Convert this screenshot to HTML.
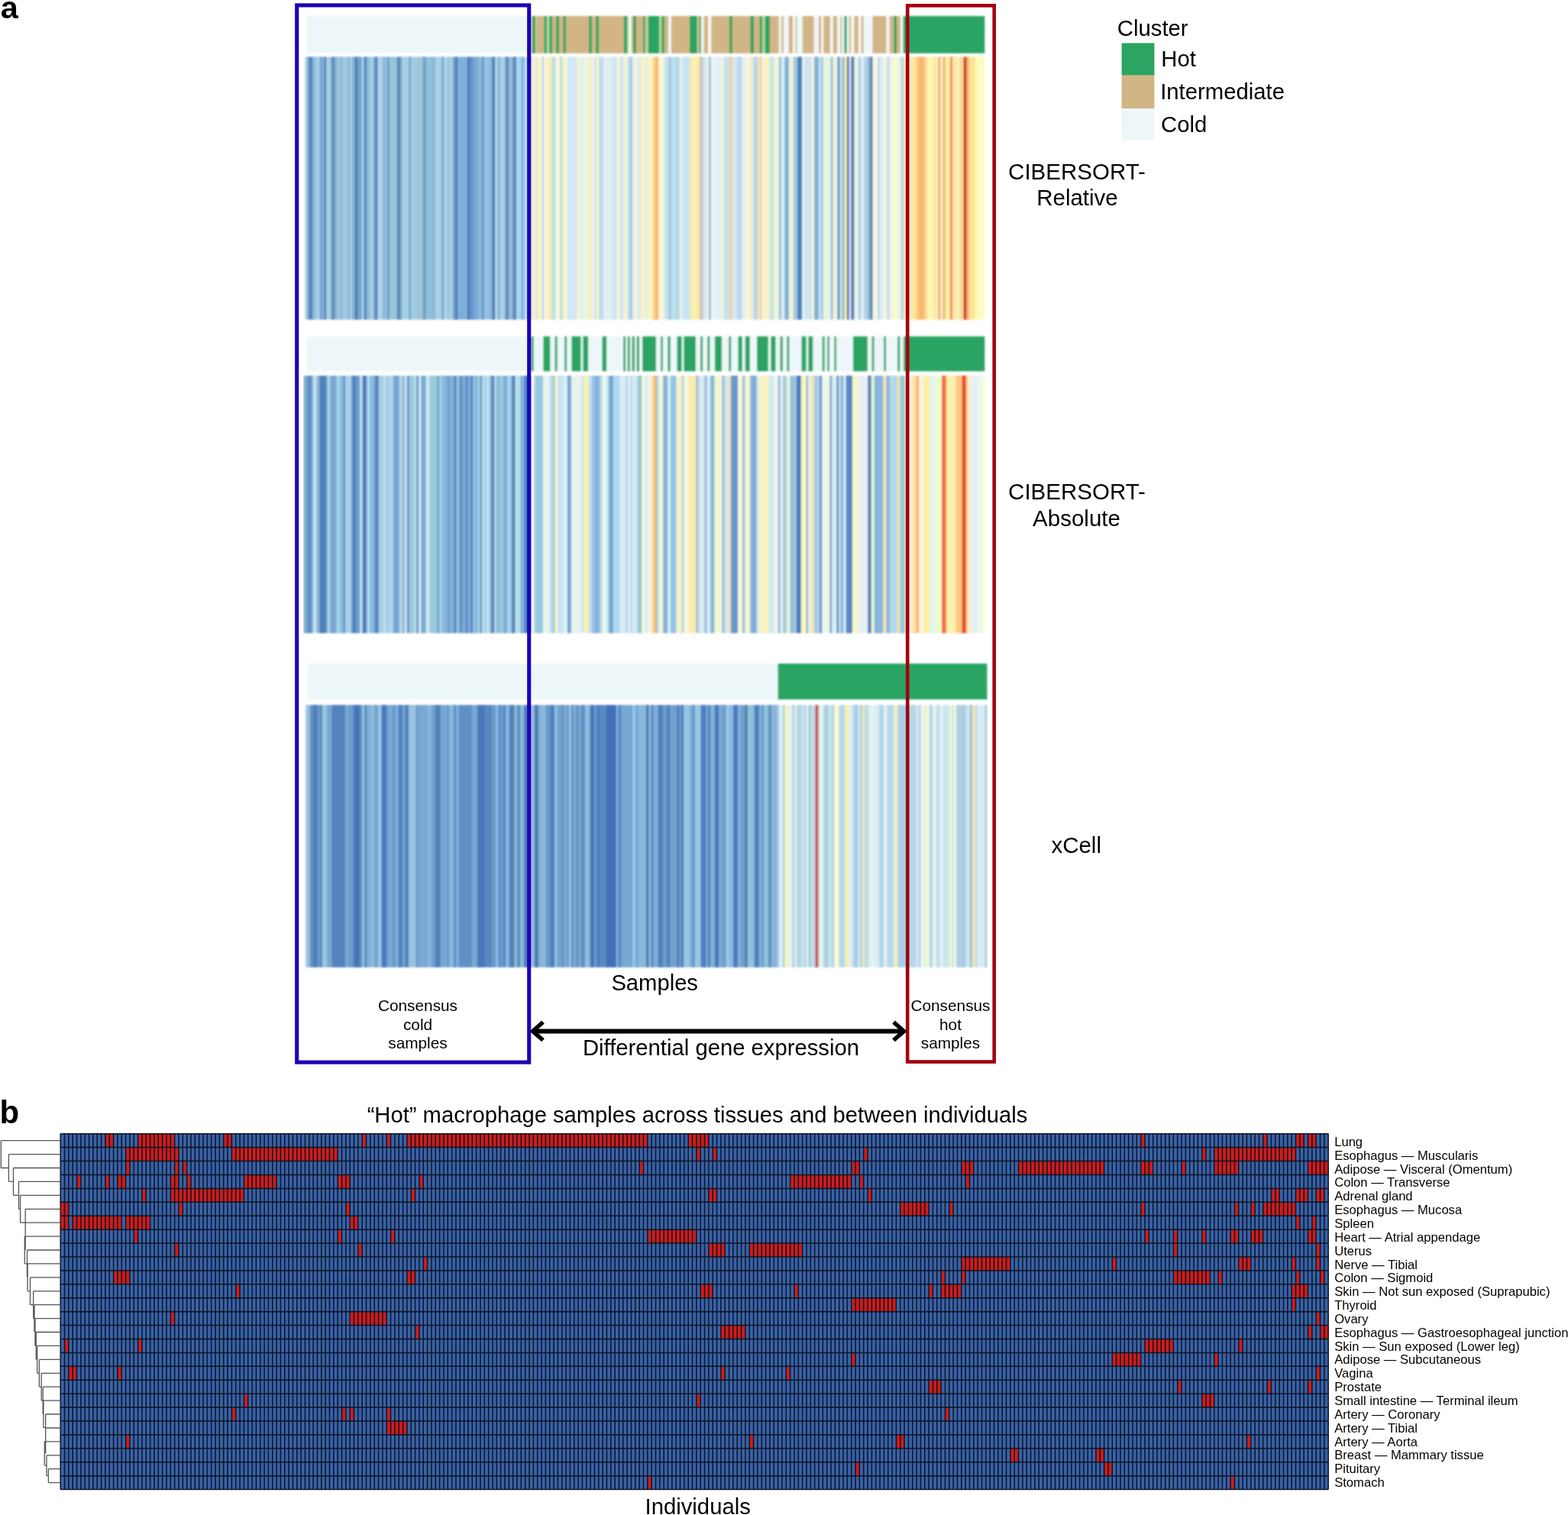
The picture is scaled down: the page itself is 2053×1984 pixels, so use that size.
<!DOCTYPE html>
<html><head><meta charset="utf-8"><title>Figure</title>
<style>
html,body{margin:0;padding:0;background:#fff;}
body{width:2053px;height:1984px;overflow:hidden;}
svg{display:block;}
text{fill:#000;}
</style></head><body>
<svg width="2053" height="1984" viewBox="0 0 2053 1984">
<defs><filter id="soft" x="-1%" y="-1%" width="102%" height="102%"><feGaussianBlur stdDeviation="0.9"/></filter><filter id="soft2" x="-1%" y="-1%" width="102%" height="102%"><feGaussianBlur stdDeviation="0.6"/></filter></defs>
<g filter="url(#soft)">
<rect x="398.3" y="74.4" width="0.8" height="344.2" fill="#d8e4f4"/>
<rect x="398.8" y="74.4" width="1.7" height="344.2" fill="#e0f4f8"/>
<rect x="400.1" y="74.4" width="3.1" height="344.2" fill="#a0c8d0"/>
<rect x="402.9" y="74.4" width="2.7" height="344.2" fill="#6a9ed4"/>
<rect x="405.2" y="74.4" width="4.0" height="344.2" fill="#4f7fb3"/>
<rect x="408.9" y="74.4" width="4.0" height="344.2" fill="#88b4d8"/>
<rect x="412.5" y="74.4" width="6.8" height="344.2" fill="#a0cce8"/>
<rect x="419.0" y="74.4" width="3.0" height="344.2" fill="#70a0c8"/>
<rect x="421.7" y="74.4" width="3.2" height="344.2" fill="#88b4e0"/>
<rect x="424.5" y="74.4" width="3.0" height="344.2" fill="#4c7cb8"/>
<rect x="427.2" y="74.4" width="6.3" height="344.2" fill="#a8d0dc"/>
<rect x="433.2" y="74.4" width="2.2" height="344.2" fill="#7898c8"/>
<rect x="435.0" y="74.4" width="3.5" height="344.2" fill="#6088c8"/>
<rect x="438.2" y="74.4" width="3.2" height="344.2" fill="#80b0c8"/>
<rect x="441.0" y="74.4" width="4.0" height="344.2" fill="#a0c4e0"/>
<rect x="444.7" y="74.4" width="5.0" height="344.2" fill="#90bcd8"/>
<rect x="449.3" y="74.4" width="6.7" height="344.2" fill="#a0c8e4"/>
<rect x="455.7" y="74.4" width="2.7" height="344.2" fill="#88b0c4"/>
<rect x="458.0" y="74.4" width="3.0" height="344.2" fill="#a8d4e8"/>
<rect x="460.7" y="74.4" width="4.5" height="344.2" fill="#80b0d8"/>
<rect x="464.9" y="74.4" width="3.6" height="344.2" fill="#4a78b0"/>
<rect x="468.1" y="74.4" width="5.8" height="344.2" fill="#70a4cc"/>
<rect x="473.6" y="74.4" width="2.7" height="344.2" fill="#a8d0f4"/>
<rect x="476.0" y="74.4" width="1.7" height="344.2" fill="#80acd0"/>
<rect x="477.4" y="74.4" width="2.9" height="344.2" fill="#4a78a8"/>
<rect x="479.9" y="74.4" width="5.5" height="344.2" fill="#90bce4"/>
<rect x="485.0" y="74.4" width="4.2" height="344.2" fill="#a8d4dc"/>
<rect x="488.9" y="74.4" width="2.7" height="344.2" fill="#78a0d8"/>
<rect x="491.2" y="74.4" width="3.7" height="344.2" fill="#5080c0"/>
<rect x="494.5" y="74.4" width="6.5" height="344.2" fill="#b0d4e4"/>
<rect x="500.7" y="74.4" width="3.2" height="344.2" fill="#90b4d8"/>
<rect x="503.5" y="74.4" width="4.2" height="344.2" fill="#88c0dc"/>
<rect x="507.4" y="74.4" width="2.7" height="344.2" fill="#6890c0"/>
<rect x="509.7" y="74.4" width="10.4" height="344.2" fill="#98c4dc"/>
<rect x="519.8" y="74.4" width="4.3" height="344.2" fill="#5a88b8"/>
<rect x="523.7" y="74.4" width="3.1" height="344.2" fill="#78a8d0"/>
<rect x="526.5" y="74.4" width="9.3" height="344.2" fill="#a8d0e4"/>
<rect x="535.5" y="74.4" width="2.6" height="344.2" fill="#6a9cc0"/>
<rect x="537.7" y="74.4" width="7.1" height="344.2" fill="#a0cce8"/>
<rect x="544.5" y="74.4" width="9.2" height="344.2" fill="#a0c4d8"/>
<rect x="553.4" y="74.4" width="4.8" height="344.2" fill="#70a0c8"/>
<rect x="557.9" y="74.4" width="8.2" height="344.2" fill="#90c0dc"/>
<rect x="565.8" y="74.4" width="4.8" height="344.2" fill="#8cb8d0"/>
<rect x="570.3" y="74.4" width="8.2" height="344.2" fill="#a8d0ec"/>
<rect x="578.1" y="74.4" width="3.7" height="344.2" fill="#80a8c8"/>
<rect x="581.5" y="74.4" width="4.8" height="344.2" fill="#a8d4f0"/>
<rect x="586.0" y="74.4" width="2.1" height="344.2" fill="#90bcd8"/>
<rect x="587.7" y="74.4" width="5.3" height="344.2" fill="#a8d0e0"/>
<rect x="592.7" y="74.4" width="3.1" height="344.2" fill="#78a8d8"/>
<rect x="595.5" y="74.4" width="4.3" height="344.2" fill="#4c80b8"/>
<rect x="599.5" y="74.4" width="12.6" height="344.2" fill="#80b0d8"/>
<rect x="611.8" y="74.4" width="3.8" height="344.2" fill="#4c7cb8"/>
<rect x="615.2" y="74.4" width="4.8" height="344.2" fill="#6890d0"/>
<rect x="619.7" y="74.4" width="7.0" height="344.2" fill="#78a8d0"/>
<rect x="626.4" y="74.4" width="4.8" height="344.2" fill="#88b8e0"/>
<rect x="630.9" y="74.4" width="3.7" height="344.2" fill="#6a9ac0"/>
<rect x="634.3" y="74.4" width="4.8" height="344.2" fill="#98c4e4"/>
<rect x="638.7" y="74.4" width="5.4" height="344.2" fill="#90bce0"/>
<rect x="643.8" y="74.4" width="2.1" height="344.2" fill="#6890c8"/>
<rect x="645.5" y="74.4" width="3.1" height="344.2" fill="#4a78b0"/>
<rect x="648.3" y="74.4" width="3.8" height="344.2" fill="#b0dce8"/>
<rect x="651.7" y="74.4" width="3.1" height="344.2" fill="#80a8d8"/>
<rect x="654.5" y="74.4" width="7.1" height="344.2" fill="#a8d0e4"/>
<rect x="661.2" y="74.4" width="5.9" height="344.2" fill="#6890c8"/>
<rect x="666.8" y="74.4" width="3.2" height="344.2" fill="#a0c8dc"/>
<rect x="669.6" y="74.4" width="3.1" height="344.2" fill="#78a8d0"/>
<rect x="672.4" y="74.4" width="3.7" height="344.2" fill="#5080b0"/>
<rect x="675.8" y="74.4" width="7.1" height="344.2" fill="#a8d4f4"/>
<rect x="682.5" y="74.4" width="3.7" height="344.2" fill="#80b0d0"/>
<rect x="685.9" y="74.4" width="10.5" height="344.2" fill="#b0d8f8"/>
<rect x="696.0" y="74.4" width="1.9" height="344.2" fill="#fde8b0"/>
<rect x="697.5" y="74.4" width="3.4" height="344.2" fill="#f6f6d0"/>
<rect x="700.5" y="74.4" width="4.2" height="344.2" fill="#e0e8e0"/>
<rect x="704.4" y="74.4" width="3.4" height="344.2" fill="#fcf4c0"/>
<rect x="707.4" y="74.4" width="2.7" height="344.2" fill="#f0f0e0"/>
<rect x="709.7" y="74.4" width="3.0" height="344.2" fill="#b8d8e8"/>
<rect x="712.4" y="74.4" width="3.1" height="344.2" fill="#fcfcc8"/>
<rect x="715.1" y="74.4" width="4.1" height="344.2" fill="#fcecd8"/>
<rect x="718.9" y="74.4" width="4.2" height="344.2" fill="#f8eca0"/>
<rect x="722.7" y="74.4" width="5.3" height="344.2" fill="#b8e0ec"/>
<rect x="727.7" y="74.4" width="3.0" height="344.2" fill="#fcfcc8"/>
<rect x="730.4" y="74.4" width="3.4" height="344.2" fill="#f0f4e8"/>
<rect x="733.4" y="74.4" width="3.5" height="344.2" fill="#b8d8e0"/>
<rect x="736.5" y="74.4" width="4.6" height="344.2" fill="#f8f8b8"/>
<rect x="740.7" y="74.4" width="3.0" height="344.2" fill="#f0ecf8"/>
<rect x="743.4" y="74.4" width="5.0" height="344.2" fill="#c8ecf4"/>
<rect x="748.0" y="74.4" width="3.4" height="344.2" fill="#d0e8f4"/>
<rect x="751.0" y="74.4" width="5.0" height="344.2" fill="#d8e4f8"/>
<rect x="755.6" y="74.4" width="3.5" height="344.2" fill="#f4f8c0"/>
<rect x="758.7" y="74.4" width="7.2" height="344.2" fill="#e4f0f4"/>
<rect x="765.6" y="74.4" width="3.5" height="344.2" fill="#f4f8c8"/>
<rect x="768.7" y="74.4" width="2.6" height="344.2" fill="#e8f0f8"/>
<rect x="771.0" y="74.4" width="3.4" height="344.2" fill="#fcecb0"/>
<rect x="774.0" y="74.4" width="5.0" height="344.2" fill="#e8f4e8"/>
<rect x="778.6" y="74.4" width="2.6" height="344.2" fill="#d8d8f0"/>
<rect x="780.9" y="74.4" width="3.5" height="344.2" fill="#f8f8c0"/>
<rect x="784.0" y="74.4" width="6.5" height="344.2" fill="#c0dcec"/>
<rect x="790.1" y="74.4" width="5.0" height="344.2" fill="#e0f0f8"/>
<rect x="794.7" y="74.4" width="6.4" height="344.2" fill="#e0f0f0"/>
<rect x="800.8" y="74.4" width="8.0" height="344.2" fill="#d0e8f4"/>
<rect x="808.4" y="74.4" width="3.5" height="344.2" fill="#f8f8c8"/>
<rect x="811.5" y="74.4" width="5.7" height="344.2" fill="#d8e4f0"/>
<rect x="816.9" y="74.4" width="4.2" height="344.2" fill="#f4f8c8"/>
<rect x="820.7" y="74.4" width="3.4" height="344.2" fill="#d8e8f4"/>
<rect x="823.8" y="74.4" width="4.2" height="344.2" fill="#a8c8e4"/>
<rect x="827.6" y="74.4" width="2.6" height="344.2" fill="#d8e8f8"/>
<rect x="829.9" y="74.4" width="4.2" height="344.2" fill="#f8f8c0"/>
<rect x="833.7" y="74.4" width="2.6" height="344.2" fill="#e0ecf4"/>
<rect x="836.0" y="74.4" width="4.1" height="344.2" fill="#e0e8f8"/>
<rect x="839.8" y="74.4" width="5.3" height="344.2" fill="#fcf4b0"/>
<rect x="844.8" y="74.4" width="3.8" height="344.2" fill="#e0f0f4"/>
<rect x="848.2" y="74.4" width="6.5" height="344.2" fill="#fcf4c0"/>
<rect x="854.4" y="74.4" width="3.4" height="344.2" fill="#f8dc90"/>
<rect x="857.4" y="74.4" width="5.3" height="344.2" fill="#fcb870"/>
<rect x="862.4" y="74.4" width="7.7" height="344.2" fill="#f4f8d8"/>
<rect x="869.7" y="74.4" width="5.6" height="344.2" fill="#c8e4f0"/>
<rect x="875.0" y="74.4" width="4.2" height="344.2" fill="#a8c8e4"/>
<rect x="878.9" y="74.4" width="6.5" height="344.2" fill="#b8e0ec"/>
<rect x="885.0" y="74.4" width="5.0" height="344.2" fill="#b8d4ec"/>
<rect x="889.6" y="74.4" width="5.0" height="344.2" fill="#e0f0e8"/>
<rect x="894.2" y="74.4" width="9.4" height="344.2" fill="#c4e4f4"/>
<rect x="903.3" y="74.4" width="5.0" height="344.2" fill="#fce8b0"/>
<rect x="907.9" y="74.4" width="5.0" height="344.2" fill="#f8f8a0"/>
<rect x="912.5" y="74.4" width="3.9" height="344.2" fill="#f0e8c8"/>
<rect x="916.0" y="74.4" width="2.6" height="344.2" fill="#fcb070"/>
<rect x="918.3" y="74.4" width="3.1" height="344.2" fill="#b0d4e8"/>
<rect x="921.0" y="74.4" width="4.8" height="344.2" fill="#d8e8f0"/>
<rect x="925.5" y="74.4" width="2.6" height="344.2" fill="#f0f4f0"/>
<rect x="927.8" y="74.4" width="3.5" height="344.2" fill="#98c4dc"/>
<rect x="930.9" y="74.4" width="5.0" height="344.2" fill="#f4f4e8"/>
<rect x="935.5" y="74.4" width="10.2" height="344.2" fill="#e4f0f8"/>
<rect x="945.4" y="74.4" width="2.7" height="344.2" fill="#f4f8c8"/>
<rect x="947.7" y="74.4" width="8.0" height="344.2" fill="#c8e0f0"/>
<rect x="955.4" y="74.4" width="3.7" height="344.2" fill="#fcc880"/>
<rect x="958.8" y="74.4" width="6.2" height="344.2" fill="#d0ecf8"/>
<rect x="964.6" y="74.4" width="7.2" height="344.2" fill="#c0d8ec"/>
<rect x="971.5" y="74.4" width="5.6" height="344.2" fill="#e4f0f8"/>
<rect x="976.8" y="74.4" width="5.0" height="344.2" fill="#f8f8d0"/>
<rect x="981.4" y="74.4" width="5.0" height="344.2" fill="#f0ecd0"/>
<rect x="986.0" y="74.4" width="3.4" height="344.2" fill="#c8d8e8"/>
<rect x="989.0" y="74.4" width="3.5" height="344.2" fill="#a8d8e0"/>
<rect x="992.1" y="74.4" width="2.6" height="344.2" fill="#f0f0d8"/>
<rect x="994.4" y="74.4" width="3.1" height="344.2" fill="#fcc880"/>
<rect x="997.1" y="74.4" width="5.3" height="344.2" fill="#f4f0e0"/>
<rect x="1002.1" y="74.4" width="5.6" height="344.2" fill="#f8f4b8"/>
<rect x="1007.4" y="74.4" width="6.6" height="344.2" fill="#c8e4e4"/>
<rect x="1013.6" y="74.4" width="6.5" height="344.2" fill="#f4f8d8"/>
<rect x="1019.7" y="74.4" width="3.4" height="344.2" fill="#98c0dc"/>
<rect x="1022.7" y="74.4" width="4.9" height="344.2" fill="#d8ecf8"/>
<rect x="1027.3" y="74.4" width="5.8" height="344.2" fill="#80b0d0"/>
<rect x="1032.7" y="74.4" width="2.6" height="344.2" fill="#e0f0f4"/>
<rect x="1035.0" y="74.4" width="4.1" height="344.2" fill="#f8f4c8"/>
<rect x="1038.8" y="74.4" width="5.8" height="344.2" fill="#a0c8d8"/>
<rect x="1044.2" y="74.4" width="6.4" height="344.2" fill="#4a80c0"/>
<rect x="1050.3" y="74.4" width="3.4" height="344.2" fill="#e8f4f0"/>
<rect x="1053.3" y="74.4" width="5.0" height="344.2" fill="#c8e8e8"/>
<rect x="1057.9" y="74.4" width="5.7" height="344.2" fill="#d8e0f8"/>
<rect x="1063.3" y="74.4" width="3.1" height="344.2" fill="#f0f8d0"/>
<rect x="1066.0" y="74.4" width="6.1" height="344.2" fill="#80b0d4"/>
<rect x="1071.7" y="74.4" width="3.9" height="344.2" fill="#c8e0f0"/>
<rect x="1075.2" y="74.4" width="2.9" height="344.2" fill="#98c8e4"/>
<rect x="1077.8" y="74.4" width="10.0" height="344.2" fill="#ecf4e0"/>
<rect x="1087.4" y="74.4" width="3.7" height="344.2" fill="#98c8e0"/>
<rect x="1090.8" y="74.4" width="5.8" height="344.2" fill="#f4f4d8"/>
<rect x="1096.2" y="74.4" width="4.1" height="344.2" fill="#70a0c8"/>
<rect x="1100.0" y="74.4" width="3.1" height="344.2" fill="#d0ecf4"/>
<rect x="1102.7" y="74.4" width="3.1" height="344.2" fill="#88a8c0"/>
<rect x="1105.4" y="74.4" width="3.7" height="344.2" fill="#f8f0a0"/>
<rect x="1108.8" y="74.4" width="3.1" height="344.2" fill="#4070b0"/>
<rect x="1111.6" y="74.4" width="3.4" height="344.2" fill="#d8e0f8"/>
<rect x="1114.6" y="74.4" width="4.2" height="344.2" fill="#5070a8"/>
<rect x="1118.4" y="74.4" width="5.7" height="344.2" fill="#e8f8e8"/>
<rect x="1123.8" y="74.4" width="3.4" height="344.2" fill="#b0c8ec"/>
<rect x="1126.8" y="74.4" width="5.0" height="344.2" fill="#d8f0f4"/>
<rect x="1131.4" y="74.4" width="4.9" height="344.2" fill="#b0d0e8"/>
<rect x="1136.0" y="74.4" width="3.6" height="344.2" fill="#90b8dc"/>
<rect x="1139.3" y="74.4" width="3.6" height="344.2" fill="#5878b0"/>
<rect x="1142.5" y="74.4" width="6.9" height="344.2" fill="#f4f8e0"/>
<rect x="1149.1" y="74.4" width="3.6" height="344.2" fill="#c0d8f0"/>
<rect x="1152.3" y="74.4" width="5.3" height="344.2" fill="#e0f0f8"/>
<rect x="1157.2" y="74.4" width="4.4" height="344.2" fill="#f4f8d8"/>
<rect x="1161.3" y="74.4" width="3.6" height="344.2" fill="#c0d8f0"/>
<rect x="1164.6" y="74.4" width="6.1" height="344.2" fill="#f0f4e0"/>
<rect x="1170.3" y="74.4" width="4.5" height="344.2" fill="#fcfcc0"/>
<rect x="1174.4" y="74.4" width="5.2" height="344.2" fill="#e8f4e8"/>
<rect x="1179.3" y="74.4" width="4.3" height="344.2" fill="#b8d8e4"/>
<rect x="1183.3" y="74.4" width="2.1" height="344.2" fill="#fce8a8"/>
<rect x="1185.0" y="74.4" width="5.8" height="344.2" fill="#fce8a8"/>
<rect x="1190.5" y="74.4" width="2.6" height="344.2" fill="#f0e8d0"/>
<rect x="1192.7" y="74.4" width="5.4" height="344.2" fill="#fde89c"/>
<rect x="1197.8" y="74.4" width="4.3" height="344.2" fill="#fdd890"/>
<rect x="1201.7" y="74.4" width="9.3" height="344.2" fill="#fbb870"/>
<rect x="1210.7" y="74.4" width="4.8" height="344.2" fill="#fde0a0"/>
<rect x="1215.2" y="74.4" width="7.1" height="344.2" fill="#fcf8b0"/>
<rect x="1221.9" y="74.4" width="4.8" height="344.2" fill="#fde4a8"/>
<rect x="1226.4" y="74.4" width="2.0" height="344.2" fill="#f0fcd0"/>
<rect x="1228.1" y="74.4" width="3.2" height="344.2" fill="#f0a870"/>
<rect x="1230.9" y="74.4" width="4.2" height="344.2" fill="#fde8b8"/>
<rect x="1234.8" y="74.4" width="3.1" height="344.2" fill="#e8b078"/>
<rect x="1237.6" y="74.4" width="6.6" height="344.2" fill="#fdf0a8"/>
<rect x="1243.8" y="74.4" width="3.8" height="344.2" fill="#f09060"/>
<rect x="1247.2" y="74.4" width="6.4" height="344.2" fill="#fde8a8"/>
<rect x="1253.3" y="74.4" width="3.8" height="344.2" fill="#eef8b0"/>
<rect x="1256.7" y="74.4" width="5.4" height="344.2" fill="#fcd498"/>
<rect x="1261.8" y="74.4" width="3.6" height="344.2" fill="#b83818"/>
<rect x="1265.1" y="74.4" width="3.8" height="344.2" fill="#fca070"/>
<rect x="1268.5" y="74.4" width="6.6" height="344.2" fill="#fce48c"/>
<rect x="1274.7" y="74.4" width="3.6" height="344.2" fill="#fce8a8"/>
<rect x="1278.0" y="74.4" width="11.3" height="344.2" fill="#fcfcc0"/>
<rect x="401.7" y="21.0" width="293.9" height="48.8" fill="#edf7fa"/>
<rect x="695.2" y="21.0" width="2.2" height="48.8" fill="#d2b584"/>
<rect x="697.1" y="21.0" width="4.1" height="48.8" fill="#2ca462"/>
<rect x="700.9" y="21.0" width="2.0" height="48.8" fill="#b8d8a0"/>
<rect x="702.5" y="21.0" width="10.2" height="48.8" fill="#d2b584"/>
<rect x="712.4" y="21.0" width="3.7" height="48.8" fill="#2ca462"/>
<rect x="715.8" y="21.0" width="3.9" height="48.8" fill="#b0d8a0"/>
<rect x="719.3" y="21.0" width="4.2" height="48.8" fill="#2ca462"/>
<rect x="723.1" y="21.0" width="5.3" height="48.8" fill="#d2b584"/>
<rect x="728.1" y="21.0" width="4.2" height="48.8" fill="#2ca462"/>
<rect x="732.0" y="21.0" width="5.6" height="48.8" fill="#d2b584"/>
<rect x="737.3" y="21.0" width="4.2" height="48.8" fill="#2ca462"/>
<rect x="741.1" y="21.0" width="30.2" height="48.8" fill="#d2b584"/>
<rect x="771.0" y="21.0" width="4.1" height="48.8" fill="#2ca462"/>
<rect x="774.8" y="21.0" width="5.7" height="48.8" fill="#d2b584"/>
<rect x="780.1" y="21.0" width="4.5" height="48.8" fill="#2ca462"/>
<rect x="784.3" y="21.0" width="33.0" height="48.8" fill="#d2b584"/>
<rect x="816.9" y="21.0" width="4.6" height="48.8" fill="#2ca462"/>
<rect x="821.1" y="21.0" width="2.2" height="48.8" fill="#b0d8a0"/>
<rect x="823.0" y="21.0" width="4.1" height="48.8" fill="#f4f8f4"/>
<rect x="826.8" y="21.0" width="2.7" height="48.8" fill="#d2b584"/>
<rect x="829.1" y="21.0" width="4.1" height="48.8" fill="#2ca462"/>
<rect x="832.9" y="21.0" width="3.5" height="48.8" fill="#d2b584"/>
<rect x="836.0" y="21.0" width="6.5" height="48.8" fill="#d2b584"/>
<rect x="842.1" y="21.0" width="3.0" height="48.8" fill="#2ca462"/>
<rect x="844.8" y="21.0" width="4.2" height="48.8" fill="#c8d0a0"/>
<rect x="848.6" y="21.0" width="15.0" height="48.8" fill="#2ca462"/>
<rect x="863.2" y="21.0" width="3.4" height="48.8" fill="#b8d8a0"/>
<rect x="866.2" y="21.0" width="3.9" height="48.8" fill="#2ca462"/>
<rect x="869.7" y="21.0" width="5.6" height="48.8" fill="#d2b584"/>
<rect x="875.0" y="21.0" width="4.2" height="48.8" fill="#eef8f4"/>
<rect x="878.9" y="21.0" width="24.5" height="48.8" fill="#d2b584"/>
<rect x="903.0" y="21.0" width="10.2" height="48.8" fill="#2ca462"/>
<rect x="912.9" y="21.0" width="3.1" height="48.8" fill="#d8c8a0"/>
<rect x="915.6" y="21.0" width="2.6" height="48.8" fill="#2ca462"/>
<rect x="917.9" y="21.0" width="4.2" height="48.8" fill="#f4f8f4"/>
<rect x="921.7" y="21.0" width="5.7" height="48.8" fill="#d2b584"/>
<rect x="927.1" y="21.0" width="4.5" height="48.8" fill="#f4f8f4"/>
<rect x="931.3" y="21.0" width="24.1" height="48.8" fill="#d2b584"/>
<rect x="955.0" y="21.0" width="4.1" height="48.8" fill="#2ca462"/>
<rect x="958.8" y="21.0" width="24.2" height="48.8" fill="#d2b584"/>
<rect x="982.6" y="21.0" width="3.7" height="48.8" fill="#2ca462"/>
<rect x="986.0" y="21.0" width="1.5" height="48.8" fill="#2ca462"/>
<rect x="987.1" y="21.0" width="8.0" height="48.8" fill="#d2b584"/>
<rect x="994.8" y="21.0" width="3.8" height="48.8" fill="#2ca462"/>
<rect x="998.2" y="21.0" width="3.9" height="48.8" fill="#b8d8a0"/>
<rect x="1001.7" y="21.0" width="6.4" height="48.8" fill="#2ca462"/>
<rect x="1007.8" y="21.0" width="12.3" height="48.8" fill="#d2b584"/>
<rect x="1019.7" y="21.0" width="3.7" height="48.8" fill="#eef8f8"/>
<rect x="1023.1" y="21.0" width="3.0" height="48.8" fill="#d2b584"/>
<rect x="1025.8" y="21.0" width="7.3" height="48.8" fill="#f4f4fc"/>
<rect x="1032.7" y="21.0" width="5.6" height="48.8" fill="#d2b584"/>
<rect x="1038.0" y="21.0" width="3.9" height="48.8" fill="#f4f8f8"/>
<rect x="1041.5" y="21.0" width="2.6" height="48.8" fill="#d0c8a8"/>
<rect x="1043.8" y="21.0" width="7.3" height="48.8" fill="#e8fcfc"/>
<rect x="1050.7" y="21.0" width="15.2" height="48.8" fill="#d2b584"/>
<rect x="1065.6" y="21.0" width="6.8" height="48.8" fill="#eef6fa"/>
<rect x="1072.1" y="21.0" width="3.5" height="48.8" fill="#d2b584"/>
<rect x="1075.2" y="21.0" width="3.4" height="48.8" fill="#f4f8f8"/>
<rect x="1078.2" y="21.0" width="9.1" height="48.8" fill="#d2b584"/>
<rect x="1087.0" y="21.0" width="4.1" height="48.8" fill="#f4f8f8"/>
<rect x="1090.8" y="21.0" width="5.8" height="48.8" fill="#d2b584"/>
<rect x="1096.2" y="21.0" width="4.1" height="48.8" fill="#f4f8f8"/>
<rect x="1100.0" y="21.0" width="3.1" height="48.8" fill="#d0c8a8"/>
<rect x="1102.7" y="21.0" width="3.1" height="48.8" fill="#f4f8f8"/>
<rect x="1105.4" y="21.0" width="3.7" height="48.8" fill="#2ca462"/>
<rect x="1108.8" y="21.0" width="3.1" height="48.8" fill="#f4f8f8"/>
<rect x="1111.6" y="21.0" width="3.0" height="48.8" fill="#d2b584"/>
<rect x="1114.2" y="21.0" width="4.6" height="48.8" fill="#f4f8f8"/>
<rect x="1118.4" y="21.0" width="5.7" height="48.8" fill="#d2b584"/>
<rect x="1123.8" y="21.0" width="4.1" height="48.8" fill="#f4f8f8"/>
<rect x="1127.6" y="21.0" width="3.4" height="48.8" fill="#d2b584"/>
<rect x="1130.6" y="21.0" width="5.8" height="48.8" fill="#f4f8f8"/>
<rect x="1136.0" y="21.0" width="6.8" height="48.8" fill="#eef6fc"/>
<rect x="1142.5" y="21.0" width="18.4" height="48.8" fill="#d2b584"/>
<rect x="1160.5" y="21.0" width="4.4" height="48.8" fill="#f4f8f8"/>
<rect x="1164.6" y="21.0" width="6.1" height="48.8" fill="#d2b584"/>
<rect x="1170.3" y="21.0" width="4.1" height="48.8" fill="#2ca462"/>
<rect x="1174.0" y="21.0" width="5.3" height="48.8" fill="#d2b584"/>
<rect x="1178.9" y="21.0" width="3.9" height="48.8" fill="#f4f8f8"/>
<rect x="1182.5" y="21.0" width="106.8" height="48.8" fill="#2ca462"/>
<rect x="397.7" y="492.0" width="5.3" height="337.2" fill="#78acc8"/>
<rect x="402.7" y="492.0" width="2.7" height="337.2" fill="#6888c8"/>
<rect x="405.0" y="492.0" width="3.2" height="337.2" fill="#5890c0"/>
<rect x="407.8" y="492.0" width="2.5" height="337.2" fill="#88b0d8"/>
<rect x="410.0" y="492.0" width="4.8" height="337.2" fill="#c4e0f8"/>
<rect x="414.5" y="492.0" width="4.2" height="337.2" fill="#88b4d8"/>
<rect x="418.4" y="492.0" width="6.6" height="337.2" fill="#4c80b8"/>
<rect x="424.6" y="492.0" width="4.2" height="337.2" fill="#5c88c8"/>
<rect x="428.5" y="492.0" width="3.7" height="337.2" fill="#a8d8e8"/>
<rect x="431.9" y="492.0" width="3.2" height="337.2" fill="#80b0c8"/>
<rect x="434.7" y="492.0" width="4.3" height="337.2" fill="#78a0d8"/>
<rect x="438.6" y="492.0" width="2.6" height="337.2" fill="#80b0c8"/>
<rect x="440.9" y="492.0" width="3.8" height="337.2" fill="#a8d8e8"/>
<rect x="444.3" y="492.0" width="5.9" height="337.2" fill="#88bce0"/>
<rect x="449.9" y="492.0" width="2.6" height="337.2" fill="#6088b0"/>
<rect x="452.1" y="492.0" width="8.2" height="337.2" fill="#a8d0e8"/>
<rect x="460.0" y="492.0" width="2.5" height="337.2" fill="#6a98c0"/>
<rect x="462.2" y="492.0" width="3.8" height="337.2" fill="#4c7cc0"/>
<rect x="465.6" y="492.0" width="5.9" height="337.2" fill="#6a9ec8"/>
<rect x="471.2" y="492.0" width="3.8" height="337.2" fill="#c0e0f4"/>
<rect x="474.6" y="492.0" width="4.8" height="337.2" fill="#4c78c0"/>
<rect x="479.1" y="492.0" width="1.9" height="337.2" fill="#6898c8"/>
<rect x="480.7" y="492.0" width="3.8" height="337.2" fill="#b0e0e8"/>
<rect x="484.1" y="492.0" width="6.5" height="337.2" fill="#88b8e0"/>
<rect x="490.3" y="492.0" width="5.9" height="337.2" fill="#5888c0"/>
<rect x="495.9" y="492.0" width="7.1" height="337.2" fill="#a8d0e4"/>
<rect x="502.6" y="492.0" width="3.7" height="337.2" fill="#c0e0f4"/>
<rect x="506.0" y="492.0" width="2.0" height="337.2" fill="#98bcd4"/>
<rect x="507.7" y="492.0" width="7.7" height="337.2" fill="#b0d4ec"/>
<rect x="515.0" y="492.0" width="8.1" height="337.2" fill="#70a8d4"/>
<rect x="522.8" y="492.0" width="4.8" height="337.2" fill="#b8d4e8"/>
<rect x="527.3" y="492.0" width="2.7" height="337.2" fill="#80a8d8"/>
<rect x="529.6" y="492.0" width="3.6" height="337.2" fill="#c0ecec"/>
<rect x="532.9" y="492.0" width="3.2" height="337.2" fill="#6890c0"/>
<rect x="535.7" y="492.0" width="6.5" height="337.2" fill="#a0c8e4"/>
<rect x="541.9" y="492.0" width="3.7" height="337.2" fill="#b0e0e0"/>
<rect x="545.3" y="492.0" width="3.2" height="337.2" fill="#6f90c8"/>
<rect x="548.1" y="492.0" width="3.7" height="337.2" fill="#c8e8f8"/>
<rect x="551.5" y="492.0" width="6.5" height="337.2" fill="#78a8d0"/>
<rect x="557.6" y="492.0" width="4.8" height="337.2" fill="#c8ecf0"/>
<rect x="562.1" y="492.0" width="3.1" height="337.2" fill="#a8c8ec"/>
<rect x="564.9" y="492.0" width="8.2" height="337.2" fill="#98c8d4"/>
<rect x="572.8" y="492.0" width="2.6" height="337.2" fill="#7098d0"/>
<rect x="575.0" y="492.0" width="4.2" height="337.2" fill="#a0cce8"/>
<rect x="578.9" y="492.0" width="7.2" height="337.2" fill="#88b8d8"/>
<rect x="585.7" y="492.0" width="3.1" height="337.2" fill="#6898d0"/>
<rect x="588.5" y="492.0" width="6.6" height="337.2" fill="#80b0d8"/>
<rect x="594.7" y="492.0" width="3.1" height="337.2" fill="#5080b8"/>
<rect x="597.5" y="492.0" width="4.2" height="337.2" fill="#90c0e8"/>
<rect x="601.4" y="492.0" width="3.7" height="337.2" fill="#5f90b8"/>
<rect x="604.8" y="492.0" width="1.6" height="337.2" fill="#78a8d8"/>
<rect x="606.0" y="492.0" width="4.5" height="337.2" fill="#78a8d8"/>
<rect x="610.1" y="492.0" width="3.1" height="337.2" fill="#5888c0"/>
<rect x="612.9" y="492.0" width="3.6" height="337.2" fill="#80b0e0"/>
<rect x="616.1" y="492.0" width="3.1" height="337.2" fill="#5080b8"/>
<rect x="618.9" y="492.0" width="4.0" height="337.2" fill="#90c0e8"/>
<rect x="622.5" y="492.0" width="3.1" height="337.2" fill="#80b0d0"/>
<rect x="625.3" y="492.0" width="3.6" height="337.2" fill="#a0d0e8"/>
<rect x="628.5" y="492.0" width="3.1" height="337.2" fill="#6898c8"/>
<rect x="631.3" y="492.0" width="3.6" height="337.2" fill="#b8e0e8"/>
<rect x="634.5" y="492.0" width="3.1" height="337.2" fill="#a8c8e8"/>
<rect x="637.2" y="492.0" width="4.0" height="337.2" fill="#c0e0f4"/>
<rect x="640.9" y="492.0" width="3.6" height="337.2" fill="#88b8d8"/>
<rect x="644.1" y="492.0" width="3.1" height="337.2" fill="#4870b0"/>
<rect x="646.9" y="492.0" width="3.6" height="337.2" fill="#b0d8f0"/>
<rect x="650.1" y="492.0" width="4.0" height="337.2" fill="#90b8d0"/>
<rect x="653.8" y="492.0" width="5.8" height="337.2" fill="#98c8e0"/>
<rect x="659.3" y="492.0" width="4.0" height="337.2" fill="#78a8d0"/>
<rect x="662.9" y="492.0" width="2.7" height="337.2" fill="#90c0e0"/>
<rect x="665.2" y="492.0" width="4.0" height="337.2" fill="#a8d4ec"/>
<rect x="668.9" y="492.0" width="3.2" height="337.2" fill="#78a8d0"/>
<rect x="671.7" y="492.0" width="3.0" height="337.2" fill="#4870b0"/>
<rect x="674.4" y="492.0" width="7.2" height="337.2" fill="#b8e0ec"/>
<rect x="681.3" y="492.0" width="5.8" height="337.2" fill="#80b0d8"/>
<rect x="686.8" y="492.0" width="8.8" height="337.2" fill="#4878c0"/>
<rect x="695.2" y="492.0" width="4.9" height="337.2" fill="#f0f8f0"/>
<rect x="699.8" y="492.0" width="11.5" height="337.2" fill="#98c8e0"/>
<rect x="710.9" y="492.0" width="9.2" height="337.2" fill="#e8f4f0"/>
<rect x="719.7" y="492.0" width="4.1" height="337.2" fill="#c0dcf0"/>
<rect x="723.5" y="492.0" width="3.5" height="337.2" fill="#a8c8d8"/>
<rect x="726.6" y="492.0" width="3.7" height="337.2" fill="#f8f8c0"/>
<rect x="730.0" y="492.0" width="5.2" height="337.2" fill="#c8e0f8"/>
<rect x="734.9" y="492.0" width="5.1" height="337.2" fill="#c8ecf0"/>
<rect x="739.6" y="492.0" width="3.4" height="337.2" fill="#e8f4f4"/>
<rect x="742.6" y="492.0" width="5.7" height="337.2" fill="#78a8d8"/>
<rect x="748.0" y="492.0" width="7.2" height="337.2" fill="#e8f4e8"/>
<rect x="754.9" y="492.0" width="6.5" height="337.2" fill="#e8f4f0"/>
<rect x="761.0" y="492.0" width="3.5" height="337.2" fill="#d0e0f4"/>
<rect x="764.1" y="492.0" width="6.5" height="337.2" fill="#f8f4a8"/>
<rect x="770.2" y="492.0" width="4.9" height="337.2" fill="#c8e0f0"/>
<rect x="774.8" y="492.0" width="5.0" height="337.2" fill="#98c0e0"/>
<rect x="779.4" y="492.0" width="5.7" height="337.2" fill="#80b0e0"/>
<rect x="784.7" y="492.0" width="4.1" height="337.2" fill="#b0d4e4"/>
<rect x="788.5" y="492.0" width="5.0" height="337.2" fill="#f0f8e8"/>
<rect x="793.1" y="492.0" width="4.2" height="337.2" fill="#c8e8f4"/>
<rect x="797.0" y="492.0" width="6.5" height="337.2" fill="#78a8d0"/>
<rect x="803.1" y="492.0" width="8.7" height="337.2" fill="#b0d8f0"/>
<rect x="811.5" y="492.0" width="8.1" height="337.2" fill="#d8ecf4"/>
<rect x="819.2" y="492.0" width="2.9" height="337.2" fill="#b8d8e8"/>
<rect x="821.8" y="492.0" width="4.6" height="337.2" fill="#d8ecf8"/>
<rect x="826.0" y="492.0" width="2.6" height="337.2" fill="#b8d4e4"/>
<rect x="828.3" y="492.0" width="5.0" height="337.2" fill="#d8ecf8"/>
<rect x="832.9" y="492.0" width="3.5" height="337.2" fill="#b8dce8"/>
<rect x="836.0" y="492.0" width="4.6" height="337.2" fill="#98c0cc"/>
<rect x="840.2" y="492.0" width="4.5" height="337.2" fill="#f4f8d8"/>
<rect x="844.4" y="492.0" width="3.5" height="337.2" fill="#d0ecf4"/>
<rect x="847.5" y="492.0" width="5.0" height="337.2" fill="#f4f0f0"/>
<rect x="852.1" y="492.0" width="3.4" height="337.2" fill="#f8f0b0"/>
<rect x="855.1" y="492.0" width="4.2" height="337.2" fill="#fcb878"/>
<rect x="859.0" y="492.0" width="3.7" height="337.2" fill="#a8cce0"/>
<rect x="862.4" y="492.0" width="6.1" height="337.2" fill="#f4f8d8"/>
<rect x="868.1" y="492.0" width="6.5" height="337.2" fill="#88b0d8"/>
<rect x="874.3" y="492.0" width="3.8" height="337.2" fill="#d8f0f8"/>
<rect x="877.7" y="492.0" width="8.3" height="337.2" fill="#98c4e4"/>
<rect x="885.7" y="492.0" width="3.4" height="337.2" fill="#f4f8e0"/>
<rect x="888.8" y="492.0" width="4.6" height="337.2" fill="#f8f0b8"/>
<rect x="893.0" y="492.0" width="2.6" height="337.2" fill="#98c8e8"/>
<rect x="895.3" y="492.0" width="6.1" height="337.2" fill="#f4f8e0"/>
<rect x="901.0" y="492.0" width="10.3" height="337.2" fill="#fcecb0"/>
<rect x="911.0" y="492.0" width="4.1" height="337.2" fill="#a8c4d8"/>
<rect x="914.8" y="492.0" width="8.1" height="337.2" fill="#d8ecf0"/>
<rect x="922.5" y="492.0" width="3.4" height="337.2" fill="#90b8e0"/>
<rect x="925.5" y="492.0" width="5.0" height="337.2" fill="#d8ecf4"/>
<rect x="930.1" y="492.0" width="5.7" height="337.2" fill="#88b8e0"/>
<rect x="935.5" y="492.0" width="10.2" height="337.2" fill="#f4f8d0"/>
<rect x="945.4" y="492.0" width="3.5" height="337.2" fill="#90b8d8"/>
<rect x="948.5" y="492.0" width="5.7" height="337.2" fill="#d0e8f8"/>
<rect x="953.9" y="492.0" width="3.4" height="337.2" fill="#fce0a0"/>
<rect x="956.9" y="492.0" width="9.6" height="337.2" fill="#6898d0"/>
<rect x="966.1" y="492.0" width="6.5" height="337.2" fill="#f4f8e0"/>
<rect x="972.2" y="492.0" width="3.4" height="337.2" fill="#98b8d0"/>
<rect x="975.3" y="492.0" width="7.3" height="337.2" fill="#f0f8d0"/>
<rect x="982.2" y="492.0" width="4.1" height="337.2" fill="#88b0e0"/>
<rect x="986.0" y="492.0" width="5.0" height="337.2" fill="#80a8d8"/>
<rect x="990.6" y="492.0" width="4.1" height="337.2" fill="#d8f0e8"/>
<rect x="994.4" y="492.0" width="12.7" height="337.2" fill="#f8f2c0"/>
<rect x="1006.7" y="492.0" width="7.2" height="337.2" fill="#d0ecf4"/>
<rect x="1013.6" y="492.0" width="5.6" height="337.2" fill="#f0f4e8"/>
<rect x="1018.9" y="492.0" width="2.7" height="337.2" fill="#88a8d0"/>
<rect x="1021.2" y="492.0" width="4.1" height="337.2" fill="#d8ecf4"/>
<rect x="1025.0" y="492.0" width="5.8" height="337.2" fill="#a8cce0"/>
<rect x="1030.4" y="492.0" width="4.1" height="337.2" fill="#f4f8d0"/>
<rect x="1034.2" y="492.0" width="9.1" height="337.2" fill="#98c4e0"/>
<rect x="1043.0" y="492.0" width="6.1" height="337.2" fill="#5078c0"/>
<rect x="1048.8" y="492.0" width="7.1" height="337.2" fill="#f8f8b8"/>
<rect x="1055.6" y="492.0" width="2.7" height="337.2" fill="#88b0d8"/>
<rect x="1057.9" y="492.0" width="3.4" height="337.2" fill="#e8f0f0"/>
<rect x="1061.0" y="492.0" width="4.9" height="337.2" fill="#f8e8a8"/>
<rect x="1065.6" y="492.0" width="8.0" height="337.2" fill="#a8cce8"/>
<rect x="1073.2" y="492.0" width="3.4" height="337.2" fill="#6890d0"/>
<rect x="1076.3" y="492.0" width="10.3" height="337.2" fill="#eef8e8"/>
<rect x="1086.3" y="492.0" width="3.4" height="337.2" fill="#80a8d8"/>
<rect x="1089.3" y="492.0" width="6.5" height="337.2" fill="#d8f0f0"/>
<rect x="1095.4" y="492.0" width="3.4" height="337.2" fill="#6890c8"/>
<rect x="1098.5" y="492.0" width="2.6" height="337.2" fill="#d0ecf4"/>
<rect x="1100.8" y="492.0" width="3.5" height="337.2" fill="#80a8d0"/>
<rect x="1103.9" y="492.0" width="4.1" height="337.2" fill="#d0ecf4"/>
<rect x="1107.7" y="492.0" width="8.7" height="337.2" fill="#5888c8"/>
<rect x="1116.1" y="492.0" width="7.3" height="337.2" fill="#f8f8c0"/>
<rect x="1123.0" y="492.0" width="13.3" height="337.2" fill="#e8f0f4"/>
<rect x="1136.0" y="492.0" width="5.3" height="337.2" fill="#6088c0"/>
<rect x="1140.9" y="492.0" width="4.0" height="337.2" fill="#f0f8c8"/>
<rect x="1144.6" y="492.0" width="12.2" height="337.2" fill="#88b4e0"/>
<rect x="1156.4" y="492.0" width="4.0" height="337.2" fill="#fce8a0"/>
<rect x="1160.1" y="492.0" width="5.7" height="337.2" fill="#90b8e0"/>
<rect x="1165.4" y="492.0" width="5.2" height="337.2" fill="#b0dce8"/>
<rect x="1170.3" y="492.0" width="4.8" height="337.2" fill="#b0d4f0"/>
<rect x="1174.8" y="492.0" width="3.6" height="337.2" fill="#fce890"/>
<rect x="1178.0" y="492.0" width="7.3" height="337.2" fill="#98c8e0"/>
<rect x="1185.0" y="492.0" width="0.8" height="337.2" fill="#fcecb0"/>
<rect x="1185.5" y="492.0" width="5.3" height="337.2" fill="#fcecb0"/>
<rect x="1190.5" y="492.0" width="4.3" height="337.2" fill="#fef0d8"/>
<rect x="1194.4" y="492.0" width="5.9" height="337.2" fill="#fde0a0"/>
<rect x="1200.0" y="492.0" width="3.1" height="337.2" fill="#f8a860"/>
<rect x="1202.8" y="492.0" width="6.0" height="337.2" fill="#f4f4e0"/>
<rect x="1208.4" y="492.0" width="9.3" height="337.2" fill="#fcf0a8"/>
<rect x="1217.4" y="492.0" width="8.2" height="337.2" fill="#e0f4f0"/>
<rect x="1225.3" y="492.0" width="8.1" height="337.2" fill="#f0fcc8"/>
<rect x="1233.1" y="492.0" width="3.2" height="337.2" fill="#f06848"/>
<rect x="1235.9" y="492.0" width="3.7" height="337.2" fill="#f08040"/>
<rect x="1239.3" y="492.0" width="12.8" height="337.2" fill="#fcf0b0"/>
<rect x="1251.7" y="492.0" width="7.6" height="337.2" fill="#fcc880"/>
<rect x="1259.0" y="492.0" width="2.6" height="337.2" fill="#fc7050"/>
<rect x="1261.2" y="492.0" width="3.1" height="337.2" fill="#d03018"/>
<rect x="1264.0" y="492.0" width="3.1" height="337.2" fill="#fcb070"/>
<rect x="1266.8" y="492.0" width="7.1" height="337.2" fill="#f8f0d8"/>
<rect x="1273.5" y="492.0" width="7.1" height="337.2" fill="#e0f0f8"/>
<rect x="1280.3" y="492.0" width="4.8" height="337.2" fill="#e8f4e8"/>
<rect x="1284.8" y="492.0" width="4.6" height="337.2" fill="#f8fcd8"/>
<rect x="401.7" y="440.5" width="293.9" height="45.7" fill="#edf7fa"/>
<rect x="695.2" y="440.5" width="3.7" height="45.7" fill="#2ca462"/>
<rect x="698.6" y="440.5" width="13.0" height="45.7" fill="#edf7fa"/>
<rect x="711.3" y="440.5" width="9.5" height="45.7" fill="#2ca462"/>
<rect x="720.4" y="440.5" width="6.6" height="45.7" fill="#edf7fa"/>
<rect x="726.6" y="440.5" width="3.4" height="45.7" fill="#2ca462"/>
<rect x="729.6" y="440.5" width="10.0" height="45.7" fill="#edf7fa"/>
<rect x="739.2" y="440.5" width="3.4" height="45.7" fill="#2ca462"/>
<rect x="742.2" y="440.5" width="6.5" height="45.7" fill="#edf7fa"/>
<rect x="748.4" y="440.5" width="12.6" height="45.7" fill="#2ca462"/>
<rect x="760.6" y="440.5" width="3.0" height="45.7" fill="#edf7fa"/>
<rect x="763.3" y="440.5" width="7.3" height="45.7" fill="#2ca462"/>
<rect x="770.2" y="440.5" width="18.6" height="45.7" fill="#edf7fa"/>
<rect x="788.5" y="440.5" width="6.1" height="45.7" fill="#2ca462"/>
<rect x="794.3" y="440.5" width="22.2" height="45.7" fill="#edf7fa"/>
<rect x="816.1" y="440.5" width="3.5" height="45.7" fill="#2ca462"/>
<rect x="819.2" y="440.5" width="2.9" height="45.7" fill="#edf7fa"/>
<rect x="821.8" y="440.5" width="3.5" height="45.7" fill="#2ca462"/>
<rect x="824.9" y="440.5" width="3.1" height="45.7" fill="#edf7fa"/>
<rect x="827.6" y="440.5" width="3.7" height="45.7" fill="#2ca462"/>
<rect x="831.0" y="440.5" width="3.1" height="45.7" fill="#edf7fa"/>
<rect x="833.7" y="440.5" width="3.7" height="45.7" fill="#2ca462"/>
<rect x="837.1" y="440.5" width="4.2" height="45.7" fill="#edf7fa"/>
<rect x="841.0" y="440.5" width="18.4" height="45.7" fill="#2ca462"/>
<rect x="859.0" y="440.5" width="6.5" height="45.7" fill="#edf7fa"/>
<rect x="865.1" y="440.5" width="3.0" height="45.7" fill="#2ca462"/>
<rect x="867.8" y="440.5" width="6.8" height="45.7" fill="#edf7fa"/>
<rect x="874.3" y="440.5" width="3.8" height="45.7" fill="#2ca462"/>
<rect x="877.7" y="440.5" width="9.1" height="45.7" fill="#edf7fa"/>
<rect x="886.5" y="440.5" width="6.5" height="45.7" fill="#2ca462"/>
<rect x="892.6" y="440.5" width="3.0" height="45.7" fill="#edf7fa"/>
<rect x="895.3" y="440.5" width="16.1" height="45.7" fill="#2ca462"/>
<rect x="911.0" y="440.5" width="6.5" height="45.7" fill="#edf7fa"/>
<rect x="917.1" y="440.5" width="3.5" height="45.7" fill="#2ca462"/>
<rect x="920.2" y="440.5" width="6.4" height="45.7" fill="#edf7fa"/>
<rect x="926.3" y="440.5" width="3.5" height="45.7" fill="#2ca462"/>
<rect x="929.4" y="440.5" width="6.8" height="45.7" fill="#edf7fa"/>
<rect x="935.9" y="440.5" width="9.6" height="45.7" fill="#2ca462"/>
<rect x="945.1" y="440.5" width="9.5" height="45.7" fill="#edf7fa"/>
<rect x="954.2" y="440.5" width="3.4" height="45.7" fill="#2ca462"/>
<rect x="957.3" y="440.5" width="9.6" height="45.7" fill="#edf7fa"/>
<rect x="966.5" y="440.5" width="5.6" height="45.7" fill="#2ca462"/>
<rect x="971.8" y="440.5" width="4.3" height="45.7" fill="#edf7fa"/>
<rect x="975.7" y="440.5" width="6.4" height="45.7" fill="#2ca462"/>
<rect x="981.8" y="440.5" width="4.6" height="45.7" fill="#edf7fa"/>
<rect x="986.0" y="440.5" width="5.3" height="45.7" fill="#edf7fa"/>
<rect x="991.0" y="440.5" width="15.2" height="45.7" fill="#2ca462"/>
<rect x="1005.9" y="440.5" width="3.7" height="45.7" fill="#edf7fa"/>
<rect x="1009.3" y="440.5" width="6.6" height="45.7" fill="#2ca462"/>
<rect x="1015.5" y="440.5" width="6.5" height="45.7" fill="#edf7fa"/>
<rect x="1021.6" y="440.5" width="3.7" height="45.7" fill="#2ca462"/>
<rect x="1025.0" y="440.5" width="5.8" height="45.7" fill="#edf7fa"/>
<rect x="1030.4" y="440.5" width="3.4" height="45.7" fill="#2ca462"/>
<rect x="1033.4" y="440.5" width="16.4" height="45.7" fill="#edf7fa"/>
<rect x="1049.5" y="440.5" width="6.4" height="45.7" fill="#2ca462"/>
<rect x="1055.6" y="440.5" width="3.1" height="45.7" fill="#edf7fa"/>
<rect x="1058.3" y="440.5" width="6.5" height="45.7" fill="#2ca462"/>
<rect x="1064.4" y="440.5" width="12.6" height="45.7" fill="#edf7fa"/>
<rect x="1076.7" y="440.5" width="3.4" height="45.7" fill="#2ca462"/>
<rect x="1079.7" y="440.5" width="3.9" height="45.7" fill="#edf7fa"/>
<rect x="1083.2" y="440.5" width="3.1" height="45.7" fill="#2ca462"/>
<rect x="1085.9" y="440.5" width="6.8" height="45.7" fill="#edf7fa"/>
<rect x="1092.4" y="440.5" width="3.0" height="45.7" fill="#2ca462"/>
<rect x="1095.1" y="440.5" width="22.2" height="45.7" fill="#edf7fa"/>
<rect x="1116.9" y="440.5" width="19.4" height="45.7" fill="#2ca462"/>
<rect x="1136.0" y="440.5" width="6.1" height="45.7" fill="#edf7fa"/>
<rect x="1141.7" y="440.5" width="3.2" height="45.7" fill="#2ca462"/>
<rect x="1144.6" y="440.5" width="13.0" height="45.7" fill="#edf7fa"/>
<rect x="1157.2" y="440.5" width="3.2" height="45.7" fill="#2ca462"/>
<rect x="1160.1" y="440.5" width="15.5" height="45.7" fill="#edf7fa"/>
<rect x="1175.2" y="440.5" width="3.6" height="45.7" fill="#2ca462"/>
<rect x="1178.4" y="440.5" width="4.9" height="45.7" fill="#edf7fa"/>
<rect x="1183.0" y="440.5" width="106.3" height="45.7" fill="#2ca462"/>
<rect x="399.9" y="923.2" width="2.7" height="343.6" fill="#b0c8f0"/>
<rect x="402.2" y="923.2" width="4.3" height="343.6" fill="#90c0d8"/>
<rect x="406.1" y="923.2" width="4.2" height="343.6" fill="#6090c0"/>
<rect x="410.0" y="923.2" width="6.5" height="343.6" fill="#5080bc"/>
<rect x="416.2" y="923.2" width="2.5" height="343.6" fill="#6898d0"/>
<rect x="418.4" y="923.2" width="3.8" height="343.6" fill="#5888b0"/>
<rect x="421.8" y="923.2" width="6.5" height="343.6" fill="#98c4e4"/>
<rect x="428.0" y="923.2" width="6.5" height="343.6" fill="#78a8d0"/>
<rect x="434.2" y="923.2" width="18.3" height="343.6" fill="#5282bc"/>
<rect x="452.1" y="923.2" width="3.7" height="343.6" fill="#78a8d4"/>
<rect x="455.5" y="923.2" width="4.2" height="343.6" fill="#6a9cc8"/>
<rect x="459.4" y="923.2" width="3.2" height="343.6" fill="#6898cc"/>
<rect x="462.2" y="923.2" width="3.8" height="343.6" fill="#5080b8"/>
<rect x="465.6" y="923.2" width="5.3" height="343.6" fill="#4470b8"/>
<rect x="470.6" y="923.2" width="3.7" height="343.6" fill="#5a90b8"/>
<rect x="474.0" y="923.2" width="3.7" height="343.6" fill="#90c0e4"/>
<rect x="477.4" y="923.2" width="3.2" height="343.6" fill="#5080b0"/>
<rect x="480.2" y="923.2" width="6.0" height="343.6" fill="#80b0d8"/>
<rect x="485.8" y="923.2" width="3.7" height="343.6" fill="#90c0d8"/>
<rect x="489.2" y="923.2" width="4.8" height="343.6" fill="#78a8d8"/>
<rect x="493.6" y="923.2" width="1.5" height="343.6" fill="#6898b8"/>
<rect x="494.8" y="923.2" width="4.8" height="343.6" fill="#98c8e0"/>
<rect x="499.3" y="923.2" width="7.0" height="343.6" fill="#4a78c0"/>
<rect x="506.0" y="923.2" width="2.0" height="343.6" fill="#6898c8"/>
<rect x="507.7" y="923.2" width="7.7" height="343.6" fill="#78a8d4"/>
<rect x="515.0" y="923.2" width="2.6" height="343.6" fill="#5888b8"/>
<rect x="517.2" y="923.2" width="4.8" height="343.6" fill="#80acdc"/>
<rect x="521.7" y="923.2" width="5.4" height="343.6" fill="#5080c0"/>
<rect x="526.8" y="923.2" width="4.3" height="343.6" fill="#70a4cc"/>
<rect x="530.7" y="923.2" width="4.8" height="343.6" fill="#5080b8"/>
<rect x="535.2" y="923.2" width="9.8" height="343.6" fill="#98c4e0"/>
<rect x="544.7" y="923.2" width="3.1" height="343.6" fill="#6890cc"/>
<rect x="547.5" y="923.2" width="12.7" height="343.6" fill="#78a8d4"/>
<rect x="559.9" y="923.2" width="4.8" height="343.6" fill="#88b8e0"/>
<rect x="564.4" y="923.2" width="6.0" height="343.6" fill="#70a0cc"/>
<rect x="570.0" y="923.2" width="7.1" height="343.6" fill="#5080bc"/>
<rect x="576.7" y="923.2" width="9.3" height="343.6" fill="#78a8d0"/>
<rect x="585.7" y="923.2" width="3.1" height="343.6" fill="#6898cc"/>
<rect x="588.5" y="923.2" width="6.0" height="343.6" fill="#88b8e0"/>
<rect x="594.1" y="923.2" width="3.1" height="343.6" fill="#5888b8"/>
<rect x="596.9" y="923.2" width="3.7" height="343.6" fill="#80b0e0"/>
<rect x="600.3" y="923.2" width="16.1" height="343.6" fill="#6090c8"/>
<rect x="616.0" y="923.2" width="2.6" height="343.6" fill="#6090c8"/>
<rect x="618.2" y="923.2" width="7.1" height="343.6" fill="#78a8d0"/>
<rect x="625.0" y="923.2" width="10.3" height="343.6" fill="#4878b8"/>
<rect x="635.0" y="923.2" width="6.1" height="343.6" fill="#5888c8"/>
<rect x="640.7" y="923.2" width="3.1" height="343.6" fill="#5080b0"/>
<rect x="643.5" y="923.2" width="6.0" height="343.6" fill="#6898c8"/>
<rect x="649.1" y="923.2" width="3.7" height="343.6" fill="#88bce0"/>
<rect x="652.5" y="923.2" width="3.1" height="343.6" fill="#5888c0"/>
<rect x="655.3" y="923.2" width="4.8" height="343.6" fill="#6898d0"/>
<rect x="659.8" y="923.2" width="2.6" height="343.6" fill="#5080b0"/>
<rect x="662.0" y="923.2" width="4.3" height="343.6" fill="#88b8e0"/>
<rect x="666.0" y="923.2" width="2.6" height="343.6" fill="#6898c8"/>
<rect x="668.2" y="923.2" width="4.2" height="343.6" fill="#4878c0"/>
<rect x="672.1" y="923.2" width="2.6" height="343.6" fill="#6898b0"/>
<rect x="674.4" y="923.2" width="3.2" height="343.6" fill="#88bcd8"/>
<rect x="677.2" y="923.2" width="4.2" height="343.6" fill="#5888c0"/>
<rect x="681.1" y="923.2" width="5.3" height="343.6" fill="#88b8d8"/>
<rect x="686.1" y="923.2" width="4.3" height="343.6" fill="#4878b8"/>
<rect x="690.1" y="923.2" width="5.3" height="343.6" fill="#4878b8"/>
<rect x="695.1" y="923.2" width="2.6" height="343.6" fill="#a8c8f0"/>
<rect x="697.4" y="923.2" width="3.2" height="343.6" fill="#80b0c8"/>
<rect x="700.2" y="923.2" width="4.8" height="343.6" fill="#4878b0"/>
<rect x="704.7" y="923.2" width="3.6" height="343.6" fill="#80b0e0"/>
<rect x="708.0" y="923.2" width="7.1" height="343.6" fill="#88b8d8"/>
<rect x="714.8" y="923.2" width="6.0" height="343.6" fill="#6898c8"/>
<rect x="720.4" y="923.2" width="6.0" height="343.6" fill="#5080bc"/>
<rect x="726.0" y="923.2" width="3.7" height="343.6" fill="#90bce0"/>
<rect x="729.4" y="923.2" width="7.1" height="343.6" fill="#70a4cc"/>
<rect x="736.1" y="923.2" width="2.5" height="343.6" fill="#5888c0"/>
<rect x="738.3" y="923.2" width="4.3" height="343.6" fill="#78a8d8"/>
<rect x="742.3" y="923.2" width="3.2" height="343.6" fill="#6898c0"/>
<rect x="745.1" y="923.2" width="3.1" height="343.6" fill="#98c8f0"/>
<rect x="747.9" y="923.2" width="2.6" height="343.6" fill="#5888c0"/>
<rect x="750.1" y="923.2" width="5.5" height="343.6" fill="#78a8d0"/>
<rect x="755.2" y="923.2" width="2.5" height="343.6" fill="#5080b8"/>
<rect x="757.4" y="923.2" width="3.7" height="343.6" fill="#78a8dc"/>
<rect x="760.8" y="923.2" width="5.3" height="343.6" fill="#6090c0"/>
<rect x="765.8" y="923.2" width="7.2" height="343.6" fill="#90bce0"/>
<rect x="772.6" y="923.2" width="6.0" height="343.6" fill="#4a78b0"/>
<rect x="778.2" y="923.2" width="3.7" height="343.6" fill="#6898d0"/>
<rect x="781.6" y="923.2" width="4.2" height="343.6" fill="#4878b8"/>
<rect x="785.5" y="923.2" width="8.7" height="343.6" fill="#5888c0"/>
<rect x="793.9" y="923.2" width="13.2" height="343.6" fill="#4070b4"/>
<rect x="806.8" y="923.2" width="2.7" height="343.6" fill="#88b8e8"/>
<rect x="809.1" y="923.2" width="4.7" height="343.6" fill="#5888c0"/>
<rect x="813.5" y="923.2" width="12.7" height="343.6" fill="#78a8d4"/>
<rect x="825.9" y="923.2" width="2.1" height="343.6" fill="#6898c0"/>
<rect x="827.6" y="923.2" width="4.2" height="343.6" fill="#98c8e8"/>
<rect x="831.5" y="923.2" width="4.8" height="343.6" fill="#78a8d8"/>
<rect x="836.0" y="923.2" width="10.5" height="343.6" fill="#88b8dc"/>
<rect x="846.1" y="923.2" width="3.7" height="343.6" fill="#4878a8"/>
<rect x="849.5" y="923.2" width="3.1" height="343.6" fill="#88b8e0"/>
<rect x="852.3" y="923.2" width="3.7" height="343.6" fill="#5888c0"/>
<rect x="855.6" y="923.2" width="6.0" height="343.6" fill="#80b0d8"/>
<rect x="861.3" y="923.2" width="7.6" height="343.6" fill="#5080c0"/>
<rect x="868.5" y="923.2" width="2.6" height="343.6" fill="#78a8d8"/>
<rect x="870.8" y="923.2" width="3.8" height="343.6" fill="#6090c0"/>
<rect x="874.2" y="923.2" width="3.1" height="343.6" fill="#4878b0"/>
<rect x="877.0" y="923.2" width="9.8" height="343.6" fill="#70a0d0"/>
<rect x="886.5" y="923.2" width="3.1" height="343.6" fill="#4878a8"/>
<rect x="889.3" y="923.2" width="3.8" height="343.6" fill="#6898d0"/>
<rect x="892.7" y="923.2" width="2.5" height="343.6" fill="#4070b0"/>
<rect x="894.9" y="923.2" width="8.7" height="343.6" fill="#98c4e0"/>
<rect x="903.3" y="923.2" width="3.8" height="343.6" fill="#78a8d8"/>
<rect x="906.7" y="923.2" width="3.7" height="343.6" fill="#6898c8"/>
<rect x="910.1" y="923.2" width="7.6" height="343.6" fill="#98c8e0"/>
<rect x="917.4" y="923.2" width="7.7" height="343.6" fill="#5080c0"/>
<rect x="924.7" y="923.2" width="2.5" height="343.6" fill="#80b0e0"/>
<rect x="926.9" y="923.2" width="3.7" height="343.6" fill="#5080b0"/>
<rect x="930.3" y="923.2" width="6.0" height="343.6" fill="#80b0d8"/>
<rect x="935.9" y="923.2" width="0.5" height="343.6" fill="#4878c0"/>
<rect x="936.0" y="923.2" width="5.5" height="343.6" fill="#4878c0"/>
<rect x="941.1" y="923.2" width="6.0" height="343.6" fill="#78a8cc"/>
<rect x="946.7" y="923.2" width="4.2" height="343.6" fill="#6898d0"/>
<rect x="950.6" y="923.2" width="4.2" height="343.6" fill="#98c8e0"/>
<rect x="954.5" y="923.2" width="6.0" height="343.6" fill="#88b8e4"/>
<rect x="960.1" y="923.2" width="6.5" height="343.6" fill="#4c7cb8"/>
<rect x="966.3" y="923.2" width="3.8" height="343.6" fill="#80b0e0"/>
<rect x="969.7" y="923.2" width="5.9" height="343.6" fill="#70a0c8"/>
<rect x="975.3" y="923.2" width="3.7" height="343.6" fill="#4878a8"/>
<rect x="978.6" y="923.2" width="9.3" height="343.6" fill="#90c0dc"/>
<rect x="987.6" y="923.2" width="6.5" height="343.6" fill="#5080b8"/>
<rect x="993.8" y="923.2" width="3.8" height="343.6" fill="#80b0e0"/>
<rect x="997.2" y="923.2" width="3.1" height="343.6" fill="#6898c0"/>
<rect x="1000.0" y="923.2" width="6.5" height="343.6" fill="#90c0e0"/>
<rect x="1006.1" y="923.2" width="4.3" height="343.6" fill="#6090c0"/>
<rect x="1010.1" y="923.2" width="5.3" height="343.6" fill="#88b8d8"/>
<rect x="1015.1" y="923.2" width="2.6" height="343.6" fill="#78b0d0"/>
<rect x="1017.4" y="923.2" width="3.2" height="343.6" fill="#b0c0f0"/>
<rect x="1020.2" y="923.2" width="4.8" height="343.6" fill="#d8f4ec"/>
<rect x="1024.7" y="923.2" width="3.1" height="343.6" fill="#b0d0ec"/>
<rect x="1027.5" y="923.2" width="3.6" height="343.6" fill="#fcf4b0"/>
<rect x="1030.8" y="923.2" width="4.3" height="343.6" fill="#e8f4e0"/>
<rect x="1034.8" y="923.2" width="3.1" height="343.6" fill="#e0f0fc"/>
<rect x="1037.6" y="923.2" width="2.6" height="343.6" fill="#b0c8e0"/>
<rect x="1039.8" y="923.2" width="1.6" height="343.6" fill="#d0e8e0"/>
<rect x="1041.1" y="923.2" width="2.3" height="343.6" fill="#e0fcd8"/>
<rect x="1043.0" y="923.2" width="3.3" height="343.6" fill="#b8ccf4"/>
<rect x="1045.9" y="923.2" width="4.5" height="343.6" fill="#b8d8e0"/>
<rect x="1050.1" y="923.2" width="3.4" height="343.6" fill="#c8e8f4"/>
<rect x="1053.1" y="923.2" width="2.9" height="343.6" fill="#b0cce4"/>
<rect x="1055.6" y="923.2" width="3.0" height="343.6" fill="#e8f4f4"/>
<rect x="1058.2" y="923.2" width="4.6" height="343.6" fill="#a8d0dc"/>
<rect x="1062.4" y="923.2" width="5.5" height="343.6" fill="#c0dcf0"/>
<rect x="1067.6" y="923.2" width="3.8" height="343.6" fill="#d83020"/>
<rect x="1071.0" y="923.2" width="2.8" height="343.6" fill="#b0d4ec"/>
<rect x="1073.4" y="923.2" width="2.9" height="343.6" fill="#f0f8d8"/>
<rect x="1076.0" y="923.2" width="2.1" height="343.6" fill="#e4fce0"/>
<rect x="1077.7" y="923.2" width="3.1" height="343.6" fill="#b8d8e0"/>
<rect x="1080.5" y="923.2" width="4.3" height="343.6" fill="#a8c8e8"/>
<rect x="1084.4" y="923.2" width="5.4" height="343.6" fill="#c0e8ec"/>
<rect x="1089.5" y="923.2" width="3.1" height="343.6" fill="#b8c8e0"/>
<rect x="1092.3" y="923.2" width="6.5" height="343.6" fill="#f4fcd0"/>
<rect x="1098.4" y="923.2" width="8.2" height="343.6" fill="#b8d8ec"/>
<rect x="1106.3" y="923.2" width="6.0" height="343.6" fill="#f4f0b0"/>
<rect x="1111.9" y="923.2" width="3.7" height="343.6" fill="#e4f0f8"/>
<rect x="1115.3" y="923.2" width="3.6" height="343.6" fill="#b8e0f0"/>
<rect x="1118.6" y="923.2" width="4.8" height="343.6" fill="#a8c8e0"/>
<rect x="1123.1" y="923.2" width="4.3" height="343.6" fill="#c8e4f8"/>
<rect x="1127.1" y="923.2" width="2.6" height="343.6" fill="#98d0d8"/>
<rect x="1129.3" y="923.2" width="3.1" height="343.6" fill="#fce8a8"/>
<rect x="1132.1" y="923.2" width="3.8" height="343.6" fill="#b8d8e0"/>
<rect x="1135.5" y="923.2" width="3.8" height="343.6" fill="#d0e4f0"/>
<rect x="1138.9" y="923.2" width="7.5" height="343.6" fill="#e0f4f0"/>
<rect x="1146.1" y="923.2" width="5.5" height="343.6" fill="#d8ecf4"/>
<rect x="1151.2" y="923.2" width="5.9" height="343.6" fill="#b0d4e8"/>
<rect x="1156.8" y="923.2" width="4.8" height="343.6" fill="#e0f0f8"/>
<rect x="1161.3" y="923.2" width="4.3" height="343.6" fill="#c0d4f0"/>
<rect x="1165.2" y="923.2" width="4.3" height="343.6" fill="#b0d8e0"/>
<rect x="1169.2" y="923.2" width="2.6" height="343.6" fill="#c8ecf8"/>
<rect x="1171.4" y="923.2" width="4.2" height="343.6" fill="#fcecb0"/>
<rect x="1175.3" y="923.2" width="15.6" height="343.6" fill="#a8d0e8"/>
<rect x="1190.5" y="923.2" width="2.1" height="343.6" fill="#b8d0e8"/>
<rect x="1192.2" y="923.2" width="3.1" height="343.6" fill="#a8e0dc"/>
<rect x="1195.0" y="923.2" width="3.1" height="343.6" fill="#c0d0f0"/>
<rect x="1197.8" y="923.2" width="2.6" height="343.6" fill="#b8e0e4"/>
<rect x="1200.0" y="923.2" width="3.1" height="343.6" fill="#e0e4f8"/>
<rect x="1202.8" y="923.2" width="3.1" height="343.6" fill="#b0d4ec"/>
<rect x="1205.6" y="923.2" width="4.3" height="343.6" fill="#f0f8e8"/>
<rect x="1209.6" y="923.2" width="3.2" height="343.6" fill="#d8f4ec"/>
<rect x="1212.4" y="923.2" width="3.6" height="343.6" fill="#f4fcc8"/>
<rect x="1215.7" y="923.2" width="2.6" height="343.6" fill="#d8e8f8"/>
<rect x="1218.0" y="923.2" width="3.1" height="343.6" fill="#a8cce8"/>
<rect x="1220.8" y="923.2" width="4.8" height="343.6" fill="#eaf8e8"/>
<rect x="1225.3" y="923.2" width="6.0" height="343.6" fill="#c0e0f0"/>
<rect x="1230.9" y="923.2" width="3.7" height="343.6" fill="#e8f0f8"/>
<rect x="1234.3" y="923.2" width="2.6" height="343.6" fill="#d8e0f0"/>
<rect x="1236.5" y="923.2" width="7.1" height="343.6" fill="#c8e8ec"/>
<rect x="1243.2" y="923.2" width="3.1" height="343.6" fill="#f0fcd0"/>
<rect x="1246.0" y="923.2" width="3.3" height="343.6" fill="#d8e0f4"/>
<rect x="1248.9" y="923.2" width="3.6" height="343.6" fill="#ecfcd0"/>
<rect x="1252.2" y="923.2" width="6.6" height="343.6" fill="#b0cce8"/>
<rect x="1258.4" y="923.2" width="6.5" height="343.6" fill="#a8cce0"/>
<rect x="1264.6" y="923.2" width="2.6" height="343.6" fill="#b8ece8"/>
<rect x="1266.8" y="923.2" width="3.1" height="343.6" fill="#e0dcf8"/>
<rect x="1269.6" y="923.2" width="4.3" height="343.6" fill="#a0c8d8"/>
<rect x="1273.5" y="923.2" width="3.8" height="343.6" fill="#f8f0a8"/>
<rect x="1276.9" y="923.2" width="2.6" height="343.6" fill="#b8d4e0"/>
<rect x="1279.2" y="923.2" width="10.4" height="343.6" fill="#d8ecf8"/>
<rect x="1289.3" y="923.2" width="3.1" height="343.6" fill="#b0ccd8"/>
<rect x="402.5" y="869.0" width="616.4" height="47.0" fill="#edf7fa"/>
<rect x="1018.5" y="869.0" width="273.9" height="47.0" fill="#2ca462"/>
</g>
<rect x="388.7" y="6.9" width="304" height="1384.2" fill="none" stroke="#1c00b8" stroke-width="5.1"/>
<rect x="1188.2" y="7.3" width="113.5" height="1383.2" fill="none" stroke="#a30010" stroke-width="4.6"/>
<text x="1462.8" y="47.4" font-size="29.30" text-anchor="start" font-weight="normal" font-family="'Liberation Sans', Arial, Helvetica, sans-serif" >Cluster</text>
<rect x="1468.6" y="56.4" width="42.8" height="42.4" fill="#2ca462"/>
<rect x="1468.6" y="98.6" width="42.8" height="43.5" fill="#d2b584"/>
<rect x="1468.6" y="142.1" width="42.8" height="41.5" fill="#edf7fa"/>
<text x="1520.3" y="86.7" font-size="29.30" text-anchor="start" font-weight="normal" font-family="'Liberation Sans', Arial, Helvetica, sans-serif" >Hot</text>
<text x="1519.2" y="130.0" font-size="29.30" text-anchor="start" font-weight="normal" font-family="'Liberation Sans', Arial, Helvetica, sans-serif" >Intermediate</text>
<text x="1520.0" y="173.1" font-size="29.30" text-anchor="start" font-weight="normal" font-family="'Liberation Sans', Arial, Helvetica, sans-serif" >Cold</text>
<text x="1410.0" y="234.5" font-size="29.50" text-anchor="middle" font-weight="normal" font-family="'Liberation Sans', Arial, Helvetica, sans-serif" >CIBERSORT-</text>
<text x="1410.5" y="269.3" font-size="29.50" text-anchor="middle" font-weight="normal" font-family="'Liberation Sans', Arial, Helvetica, sans-serif" >Relative</text>
<text x="1410.0" y="653.7" font-size="29.50" text-anchor="middle" font-weight="normal" font-family="'Liberation Sans', Arial, Helvetica, sans-serif" >CIBERSORT-</text>
<text x="1409.5" y="688.5" font-size="29.50" text-anchor="middle" font-weight="normal" font-family="'Liberation Sans', Arial, Helvetica, sans-serif" >Absolute</text>
<text x="1409.2" y="1117.1" font-size="29.50" text-anchor="middle" font-weight="normal" font-family="'Liberation Sans', Arial, Helvetica, sans-serif" >xCell</text>
<text x="857.2" y="1297.3" font-size="29.20" text-anchor="middle" font-weight="normal" font-family="'Liberation Sans', Arial, Helvetica, sans-serif" >Samples</text>
<text x="547.0" y="1323.9" font-size="20.80" text-anchor="middle" font-weight="normal" font-family="'Liberation Sans', Arial, Helvetica, sans-serif" >Consensus</text>
<text x="547.0" y="1348.5" font-size="20.80" text-anchor="middle" font-weight="normal" font-family="'Liberation Sans', Arial, Helvetica, sans-serif" >cold</text>
<text x="547.0" y="1373.2" font-size="20.80" text-anchor="middle" font-weight="normal" font-family="'Liberation Sans', Arial, Helvetica, sans-serif" >samples</text>
<text x="1244.5" y="1323.9" font-size="20.80" text-anchor="middle" font-weight="normal" font-family="'Liberation Sans', Arial, Helvetica, sans-serif" >Consensus</text>
<text x="1244.5" y="1348.5" font-size="20.80" text-anchor="middle" font-weight="normal" font-family="'Liberation Sans', Arial, Helvetica, sans-serif" >hot</text>
<text x="1244.5" y="1373.2" font-size="20.80" text-anchor="middle" font-weight="normal" font-family="'Liberation Sans', Arial, Helvetica, sans-serif" >samples</text>
<text x="944.0" y="1381.9" font-size="29.25" text-anchor="middle" font-weight="normal" font-family="'Liberation Sans', Arial, Helvetica, sans-serif" >Differential gene expression</text>
<line x1="699" y1="1350.4" x2="1182" y2="1350.4" stroke="#000" stroke-width="6"/>
<polyline points="711,1338.5 697.5,1350.4 711,1362.3" fill="none" stroke="#000" stroke-width="5.5" stroke-linejoin="miter"/>
<polyline points="1170,1338.5 1183.5,1350.4 1170,1362.3" fill="none" stroke="#000" stroke-width="5.5" stroke-linejoin="miter"/>
<text x="0.8" y="24.0" font-size="41.50" text-anchor="start" font-weight="bold" font-family="'Liberation Sans', Arial, Helvetica, sans-serif" >a</text>
<text x="-0.5" y="1470.5" font-size="42.00" text-anchor="start" font-weight="bold" font-family="'Liberation Sans', Arial, Helvetica, sans-serif" >b</text>
<text x="913.0" y="1470.2" font-size="29.20" text-anchor="middle" font-weight="normal" font-family="'Liberation Sans', Arial, Helvetica, sans-serif" >“Hot” macrophage samples across tissues and between individuals</text>
<text x="913.7" y="1983.2" font-size="29.25" text-anchor="middle" font-weight="normal" font-family="'Liberation Sans', Arial, Helvetica, sans-serif" >Individuals</text>
<g filter="url(#soft2)">
<rect x="79.20" y="1484.70" width="1660.00" height="465.90" fill="#3862aa"/>
<rect x="137.91" y="1484.70" width="10.68" height="17.92" fill="#d11b1e"/>
<rect x="180.61" y="1484.70" width="48.04" height="17.92" fill="#d11b1e"/>
<rect x="292.70" y="1484.70" width="10.68" height="17.92" fill="#d11b1e"/>
<rect x="474.18" y="1484.70" width="5.34" height="17.92" fill="#d11b1e"/>
<rect x="506.21" y="1484.70" width="5.34" height="17.92" fill="#d11b1e"/>
<rect x="532.90" y="1484.70" width="314.92" height="17.92" fill="#d11b1e"/>
<rect x="901.19" y="1484.70" width="26.69" height="17.92" fill="#d11b1e"/>
<rect x="1493.67" y="1484.70" width="5.34" height="17.92" fill="#d11b1e"/>
<rect x="1653.80" y="1484.70" width="5.34" height="17.92" fill="#d11b1e"/>
<rect x="1696.50" y="1484.70" width="10.68" height="17.92" fill="#d11b1e"/>
<rect x="1712.51" y="1484.70" width="10.68" height="17.92" fill="#d11b1e"/>
<rect x="164.60" y="1502.62" width="69.39" height="17.92" fill="#d11b1e"/>
<rect x="303.38" y="1502.62" width="138.78" height="17.92" fill="#d11b1e"/>
<rect x="911.87" y="1502.62" width="5.34" height="17.92" fill="#d11b1e"/>
<rect x="933.22" y="1502.62" width="5.34" height="17.92" fill="#d11b1e"/>
<rect x="1130.71" y="1502.62" width="5.34" height="17.92" fill="#d11b1e"/>
<rect x="1573.73" y="1502.62" width="5.34" height="17.92" fill="#d11b1e"/>
<rect x="1589.75" y="1502.62" width="106.75" height="17.92" fill="#d11b1e"/>
<rect x="164.60" y="1520.54" width="5.34" height="17.92" fill="#d11b1e"/>
<rect x="228.65" y="1520.54" width="5.34" height="17.92" fill="#d11b1e"/>
<rect x="239.33" y="1520.54" width="5.34" height="17.92" fill="#d11b1e"/>
<rect x="837.14" y="1520.54" width="5.34" height="17.92" fill="#d11b1e"/>
<rect x="1114.70" y="1520.54" width="10.68" height="17.92" fill="#d11b1e"/>
<rect x="1258.81" y="1520.54" width="16.01" height="17.92" fill="#d11b1e"/>
<rect x="1333.54" y="1520.54" width="112.09" height="17.92" fill="#d11b1e"/>
<rect x="1493.67" y="1520.54" width="16.01" height="17.92" fill="#d11b1e"/>
<rect x="1547.05" y="1520.54" width="5.34" height="17.92" fill="#d11b1e"/>
<rect x="1589.75" y="1520.54" width="32.03" height="17.92" fill="#d11b1e"/>
<rect x="1712.51" y="1520.54" width="26.69" height="17.92" fill="#d11b1e"/>
<rect x="100.55" y="1538.46" width="5.34" height="17.92" fill="#d11b1e"/>
<rect x="137.91" y="1538.46" width="5.34" height="17.92" fill="#d11b1e"/>
<rect x="153.93" y="1538.46" width="10.68" height="17.92" fill="#d11b1e"/>
<rect x="223.32" y="1538.46" width="10.68" height="17.92" fill="#d11b1e"/>
<rect x="244.67" y="1538.46" width="5.34" height="17.92" fill="#d11b1e"/>
<rect x="319.39" y="1538.46" width="42.70" height="17.92" fill="#d11b1e"/>
<rect x="442.16" y="1538.46" width="16.01" height="17.92" fill="#d11b1e"/>
<rect x="548.91" y="1538.46" width="5.34" height="17.92" fill="#d11b1e"/>
<rect x="1034.63" y="1538.46" width="80.06" height="17.92" fill="#d11b1e"/>
<rect x="1125.37" y="1538.46" width="5.34" height="17.92" fill="#d11b1e"/>
<rect x="1264.15" y="1538.46" width="5.34" height="17.92" fill="#d11b1e"/>
<rect x="185.95" y="1556.38" width="5.34" height="17.92" fill="#d11b1e"/>
<rect x="223.32" y="1556.38" width="96.08" height="17.92" fill="#d11b1e"/>
<rect x="538.24" y="1556.38" width="5.34" height="17.92" fill="#d11b1e"/>
<rect x="927.88" y="1556.38" width="10.68" height="17.92" fill="#d11b1e"/>
<rect x="1136.05" y="1556.38" width="5.34" height="17.92" fill="#d11b1e"/>
<rect x="1664.47" y="1556.38" width="10.68" height="17.92" fill="#d11b1e"/>
<rect x="1696.50" y="1556.38" width="16.01" height="17.92" fill="#d11b1e"/>
<rect x="1723.19" y="1556.38" width="10.68" height="17.92" fill="#d11b1e"/>
<rect x="79.20" y="1574.30" width="10.68" height="17.92" fill="#d11b1e"/>
<rect x="233.99" y="1574.30" width="5.34" height="17.92" fill="#d11b1e"/>
<rect x="452.83" y="1574.30" width="5.34" height="17.92" fill="#d11b1e"/>
<rect x="1178.75" y="1574.30" width="37.36" height="17.92" fill="#d11b1e"/>
<rect x="1242.80" y="1574.30" width="5.34" height="17.92" fill="#d11b1e"/>
<rect x="1493.67" y="1574.30" width="5.34" height="17.92" fill="#d11b1e"/>
<rect x="1616.43" y="1574.30" width="5.34" height="17.92" fill="#d11b1e"/>
<rect x="1637.79" y="1574.30" width="5.34" height="17.92" fill="#d11b1e"/>
<rect x="1653.80" y="1574.30" width="42.70" height="17.92" fill="#d11b1e"/>
<rect x="79.20" y="1592.22" width="10.68" height="17.92" fill="#d11b1e"/>
<rect x="95.21" y="1592.22" width="64.05" height="17.92" fill="#d11b1e"/>
<rect x="164.60" y="1592.22" width="32.03" height="17.92" fill="#d11b1e"/>
<rect x="458.17" y="1592.22" width="10.68" height="17.92" fill="#d11b1e"/>
<rect x="1696.50" y="1592.22" width="5.34" height="17.92" fill="#d11b1e"/>
<rect x="1717.85" y="1592.22" width="5.34" height="17.92" fill="#d11b1e"/>
<rect x="175.28" y="1610.13" width="5.34" height="17.92" fill="#d11b1e"/>
<rect x="442.16" y="1610.13" width="5.34" height="17.92" fill="#d11b1e"/>
<rect x="511.55" y="1610.13" width="5.34" height="17.92" fill="#d11b1e"/>
<rect x="847.82" y="1610.13" width="64.05" height="17.92" fill="#d11b1e"/>
<rect x="1499.01" y="1610.13" width="5.34" height="17.92" fill="#d11b1e"/>
<rect x="1536.37" y="1610.13" width="5.34" height="17.92" fill="#d11b1e"/>
<rect x="1573.73" y="1610.13" width="5.34" height="17.92" fill="#d11b1e"/>
<rect x="1611.10" y="1610.13" width="10.68" height="17.92" fill="#d11b1e"/>
<rect x="1637.79" y="1610.13" width="16.01" height="17.92" fill="#d11b1e"/>
<rect x="1712.51" y="1610.13" width="10.68" height="17.92" fill="#d11b1e"/>
<rect x="228.65" y="1628.05" width="5.34" height="17.92" fill="#d11b1e"/>
<rect x="468.85" y="1628.05" width="5.34" height="17.92" fill="#d11b1e"/>
<rect x="927.88" y="1628.05" width="21.35" height="17.92" fill="#d11b1e"/>
<rect x="981.26" y="1628.05" width="69.39" height="17.92" fill="#d11b1e"/>
<rect x="1536.37" y="1628.05" width="5.34" height="17.92" fill="#d11b1e"/>
<rect x="1723.19" y="1628.05" width="5.34" height="17.92" fill="#d11b1e"/>
<rect x="554.25" y="1645.97" width="5.34" height="17.92" fill="#d11b1e"/>
<rect x="1258.81" y="1645.97" width="64.05" height="17.92" fill="#d11b1e"/>
<rect x="1456.31" y="1645.97" width="5.34" height="17.92" fill="#d11b1e"/>
<rect x="1621.77" y="1645.97" width="16.01" height="17.92" fill="#d11b1e"/>
<rect x="1691.16" y="1645.97" width="5.34" height="17.92" fill="#d11b1e"/>
<rect x="1723.19" y="1645.97" width="5.34" height="17.92" fill="#d11b1e"/>
<rect x="148.59" y="1663.89" width="21.35" height="17.92" fill="#d11b1e"/>
<rect x="532.90" y="1663.89" width="10.68" height="17.92" fill="#d11b1e"/>
<rect x="1232.13" y="1663.89" width="5.34" height="17.92" fill="#d11b1e"/>
<rect x="1258.81" y="1663.89" width="5.34" height="17.92" fill="#d11b1e"/>
<rect x="1536.37" y="1663.89" width="48.04" height="17.92" fill="#d11b1e"/>
<rect x="1595.08" y="1663.89" width="5.34" height="17.92" fill="#d11b1e"/>
<rect x="1696.50" y="1663.89" width="5.34" height="17.92" fill="#d11b1e"/>
<rect x="1728.52" y="1663.89" width="5.34" height="17.92" fill="#d11b1e"/>
<rect x="308.72" y="1681.81" width="5.34" height="17.92" fill="#d11b1e"/>
<rect x="917.21" y="1681.81" width="16.01" height="17.92" fill="#d11b1e"/>
<rect x="1039.97" y="1681.81" width="5.34" height="17.92" fill="#d11b1e"/>
<rect x="1216.11" y="1681.81" width="5.34" height="17.92" fill="#d11b1e"/>
<rect x="1232.13" y="1681.81" width="26.69" height="17.92" fill="#d11b1e"/>
<rect x="1691.16" y="1681.81" width="21.35" height="17.92" fill="#d11b1e"/>
<rect x="1114.70" y="1699.73" width="58.71" height="17.92" fill="#d11b1e"/>
<rect x="1691.16" y="1699.73" width="5.34" height="17.92" fill="#d11b1e"/>
<rect x="223.32" y="1717.65" width="5.34" height="17.92" fill="#d11b1e"/>
<rect x="458.17" y="1717.65" width="48.04" height="17.92" fill="#d11b1e"/>
<rect x="1723.19" y="1717.65" width="5.34" height="17.92" fill="#d11b1e"/>
<rect x="543.57" y="1735.57" width="5.34" height="17.92" fill="#d11b1e"/>
<rect x="943.89" y="1735.57" width="32.03" height="17.92" fill="#d11b1e"/>
<rect x="1712.51" y="1735.57" width="5.34" height="17.92" fill="#d11b1e"/>
<rect x="1728.52" y="1735.57" width="10.68" height="17.92" fill="#d11b1e"/>
<rect x="84.54" y="1753.49" width="5.34" height="17.92" fill="#d11b1e"/>
<rect x="180.61" y="1753.49" width="5.34" height="17.92" fill="#d11b1e"/>
<rect x="1499.01" y="1753.49" width="37.36" height="17.92" fill="#d11b1e"/>
<rect x="1621.77" y="1753.49" width="5.34" height="17.92" fill="#d11b1e"/>
<rect x="1114.70" y="1771.41" width="5.34" height="17.92" fill="#d11b1e"/>
<rect x="1456.31" y="1771.41" width="37.36" height="17.92" fill="#d11b1e"/>
<rect x="1589.75" y="1771.41" width="5.34" height="17.92" fill="#d11b1e"/>
<rect x="89.88" y="1789.33" width="10.68" height="17.92" fill="#d11b1e"/>
<rect x="153.93" y="1789.33" width="5.34" height="17.92" fill="#d11b1e"/>
<rect x="943.89" y="1789.33" width="5.34" height="17.92" fill="#d11b1e"/>
<rect x="1029.30" y="1789.33" width="5.34" height="17.92" fill="#d11b1e"/>
<rect x="1723.19" y="1789.33" width="5.34" height="17.92" fill="#d11b1e"/>
<rect x="1216.11" y="1807.25" width="16.01" height="17.92" fill="#d11b1e"/>
<rect x="1541.71" y="1807.25" width="5.34" height="17.92" fill="#d11b1e"/>
<rect x="1659.14" y="1807.25" width="5.34" height="17.92" fill="#d11b1e"/>
<rect x="1712.51" y="1807.25" width="5.34" height="17.92" fill="#d11b1e"/>
<rect x="319.39" y="1825.17" width="5.34" height="17.92" fill="#d11b1e"/>
<rect x="911.87" y="1825.17" width="5.34" height="17.92" fill="#d11b1e"/>
<rect x="1573.73" y="1825.17" width="16.01" height="17.92" fill="#d11b1e"/>
<rect x="303.38" y="1843.08" width="5.34" height="17.92" fill="#d11b1e"/>
<rect x="447.50" y="1843.08" width="5.34" height="17.92" fill="#d11b1e"/>
<rect x="458.17" y="1843.08" width="5.34" height="17.92" fill="#d11b1e"/>
<rect x="506.21" y="1843.08" width="5.34" height="17.92" fill="#d11b1e"/>
<rect x="1237.46" y="1843.08" width="5.34" height="17.92" fill="#d11b1e"/>
<rect x="506.21" y="1861.00" width="26.69" height="17.92" fill="#d11b1e"/>
<rect x="164.60" y="1878.92" width="5.34" height="17.92" fill="#d11b1e"/>
<rect x="981.26" y="1878.92" width="5.34" height="17.92" fill="#d11b1e"/>
<rect x="1173.41" y="1878.92" width="10.68" height="17.92" fill="#d11b1e"/>
<rect x="1632.45" y="1878.92" width="5.34" height="17.92" fill="#d11b1e"/>
<rect x="1322.87" y="1896.84" width="10.68" height="17.92" fill="#d11b1e"/>
<rect x="1434.96" y="1896.84" width="10.68" height="17.92" fill="#d11b1e"/>
<rect x="1120.04" y="1914.76" width="5.34" height="17.92" fill="#d11b1e"/>
<rect x="1445.63" y="1914.76" width="10.68" height="17.92" fill="#d11b1e"/>
<rect x="847.82" y="1932.68" width="5.34" height="17.92" fill="#d11b1e"/>
<rect x="1611.10" y="1932.68" width="5.34" height="17.92" fill="#d11b1e"/>
<path d="M79.20 1484.70V1950.60M84.54 1484.70V1950.60M89.88 1484.70V1950.60M95.21 1484.70V1950.60M100.55 1484.70V1950.60M105.89 1484.70V1950.60M111.23 1484.70V1950.60M116.56 1484.70V1950.60M121.90 1484.70V1950.60M127.24 1484.70V1950.60M132.58 1484.70V1950.60M137.91 1484.70V1950.60M143.25 1484.70V1950.60M148.59 1484.70V1950.60M153.93 1484.70V1950.60M159.26 1484.70V1950.60M164.60 1484.70V1950.60M169.94 1484.70V1950.60M175.28 1484.70V1950.60M180.61 1484.70V1950.60M185.95 1484.70V1950.60M191.29 1484.70V1950.60M196.63 1484.70V1950.60M201.97 1484.70V1950.60M207.30 1484.70V1950.60M212.64 1484.70V1950.60M217.98 1484.70V1950.60M223.32 1484.70V1950.60M228.65 1484.70V1950.60M233.99 1484.70V1950.60M239.33 1484.70V1950.60M244.67 1484.70V1950.60M250.00 1484.70V1950.60M255.34 1484.70V1950.60M260.68 1484.70V1950.60M266.02 1484.70V1950.60M271.35 1484.70V1950.60M276.69 1484.70V1950.60M282.03 1484.70V1950.60M287.37 1484.70V1950.60M292.70 1484.70V1950.60M298.04 1484.70V1950.60M303.38 1484.70V1950.60M308.72 1484.70V1950.60M314.06 1484.70V1950.60M319.39 1484.70V1950.60M324.73 1484.70V1950.60M330.07 1484.70V1950.60M335.41 1484.70V1950.60M340.74 1484.70V1950.60M346.08 1484.70V1950.60M351.42 1484.70V1950.60M356.76 1484.70V1950.60M362.09 1484.70V1950.60M367.43 1484.70V1950.60M372.77 1484.70V1950.60M378.11 1484.70V1950.60M383.44 1484.70V1950.60M388.78 1484.70V1950.60M394.12 1484.70V1950.60M399.46 1484.70V1950.60M404.79 1484.70V1950.60M410.13 1484.70V1950.60M415.47 1484.70V1950.60M420.81 1484.70V1950.60M426.15 1484.70V1950.60M431.48 1484.70V1950.60M436.82 1484.70V1950.60M442.16 1484.70V1950.60M447.50 1484.70V1950.60M452.83 1484.70V1950.60M458.17 1484.70V1950.60M463.51 1484.70V1950.60M468.85 1484.70V1950.60M474.18 1484.70V1950.60M479.52 1484.70V1950.60M484.86 1484.70V1950.60M490.20 1484.70V1950.60M495.53 1484.70V1950.60M500.87 1484.70V1950.60M506.21 1484.70V1950.60M511.55 1484.70V1950.60M516.88 1484.70V1950.60M522.22 1484.70V1950.60M527.56 1484.70V1950.60M532.90 1484.70V1950.60M538.24 1484.70V1950.60M543.57 1484.70V1950.60M548.91 1484.70V1950.60M554.25 1484.70V1950.60M559.59 1484.70V1950.60M564.92 1484.70V1950.60M570.26 1484.70V1950.60M575.60 1484.70V1950.60M580.94 1484.70V1950.60M586.27 1484.70V1950.60M591.61 1484.70V1950.60M596.95 1484.70V1950.60M602.29 1484.70V1950.60M607.62 1484.70V1950.60M612.96 1484.70V1950.60M618.30 1484.70V1950.60M623.64 1484.70V1950.60M628.97 1484.70V1950.60M634.31 1484.70V1950.60M639.65 1484.70V1950.60M644.99 1484.70V1950.60M650.33 1484.70V1950.60M655.66 1484.70V1950.60M661.00 1484.70V1950.60M666.34 1484.70V1950.60M671.68 1484.70V1950.60M677.01 1484.70V1950.60M682.35 1484.70V1950.60M687.69 1484.70V1950.60M693.03 1484.70V1950.60M698.36 1484.70V1950.60M703.70 1484.70V1950.60M709.04 1484.70V1950.60M714.38 1484.70V1950.60M719.71 1484.70V1950.60M725.05 1484.70V1950.60M730.39 1484.70V1950.60M735.73 1484.70V1950.60M741.06 1484.70V1950.60M746.40 1484.70V1950.60M751.74 1484.70V1950.60M757.08 1484.70V1950.60M762.42 1484.70V1950.60M767.75 1484.70V1950.60M773.09 1484.70V1950.60M778.43 1484.70V1950.60M783.77 1484.70V1950.60M789.10 1484.70V1950.60M794.44 1484.70V1950.60M799.78 1484.70V1950.60M805.12 1484.70V1950.60M810.45 1484.70V1950.60M815.79 1484.70V1950.60M821.13 1484.70V1950.60M826.47 1484.70V1950.60M831.80 1484.70V1950.60M837.14 1484.70V1950.60M842.48 1484.70V1950.60M847.82 1484.70V1950.60M853.15 1484.70V1950.60M858.49 1484.70V1950.60M863.83 1484.70V1950.60M869.17 1484.70V1950.60M874.51 1484.70V1950.60M879.84 1484.70V1950.60M885.18 1484.70V1950.60M890.52 1484.70V1950.60M895.86 1484.70V1950.60M901.19 1484.70V1950.60M906.53 1484.70V1950.60M911.87 1484.70V1950.60M917.21 1484.70V1950.60M922.54 1484.70V1950.60M927.88 1484.70V1950.60M933.22 1484.70V1950.60M938.56 1484.70V1950.60M943.89 1484.70V1950.60M949.23 1484.70V1950.60M954.57 1484.70V1950.60M959.91 1484.70V1950.60M965.25 1484.70V1950.60M970.58 1484.70V1950.60M975.92 1484.70V1950.60M981.26 1484.70V1950.60M986.60 1484.70V1950.60M991.93 1484.70V1950.60M997.27 1484.70V1950.60M1002.61 1484.70V1950.60M1007.95 1484.70V1950.60M1013.28 1484.70V1950.60M1018.62 1484.70V1950.60M1023.96 1484.70V1950.60M1029.30 1484.70V1950.60M1034.63 1484.70V1950.60M1039.97 1484.70V1950.60M1045.31 1484.70V1950.60M1050.65 1484.70V1950.60M1055.98 1484.70V1950.60M1061.32 1484.70V1950.60M1066.66 1484.70V1950.60M1072.00 1484.70V1950.60M1077.34 1484.70V1950.60M1082.67 1484.70V1950.60M1088.01 1484.70V1950.60M1093.35 1484.70V1950.60M1098.69 1484.70V1950.60M1104.02 1484.70V1950.60M1109.36 1484.70V1950.60M1114.70 1484.70V1950.60M1120.04 1484.70V1950.60M1125.37 1484.70V1950.60M1130.71 1484.70V1950.60M1136.05 1484.70V1950.60M1141.39 1484.70V1950.60M1146.72 1484.70V1950.60M1152.06 1484.70V1950.60M1157.40 1484.70V1950.60M1162.74 1484.70V1950.60M1168.07 1484.70V1950.60M1173.41 1484.70V1950.60M1178.75 1484.70V1950.60M1184.09 1484.70V1950.60M1189.43 1484.70V1950.60M1194.76 1484.70V1950.60M1200.10 1484.70V1950.60M1205.44 1484.70V1950.60M1210.78 1484.70V1950.60M1216.11 1484.70V1950.60M1221.45 1484.70V1950.60M1226.79 1484.70V1950.60M1232.13 1484.70V1950.60M1237.46 1484.70V1950.60M1242.80 1484.70V1950.60M1248.14 1484.70V1950.60M1253.48 1484.70V1950.60M1258.81 1484.70V1950.60M1264.15 1484.70V1950.60M1269.49 1484.70V1950.60M1274.83 1484.70V1950.60M1280.16 1484.70V1950.60M1285.50 1484.70V1950.60M1290.84 1484.70V1950.60M1296.18 1484.70V1950.60M1301.52 1484.70V1950.60M1306.85 1484.70V1950.60M1312.19 1484.70V1950.60M1317.53 1484.70V1950.60M1322.87 1484.70V1950.60M1328.20 1484.70V1950.60M1333.54 1484.70V1950.60M1338.88 1484.70V1950.60M1344.22 1484.70V1950.60M1349.55 1484.70V1950.60M1354.89 1484.70V1950.60M1360.23 1484.70V1950.60M1365.57 1484.70V1950.60M1370.90 1484.70V1950.60M1376.24 1484.70V1950.60M1381.58 1484.70V1950.60M1386.92 1484.70V1950.60M1392.25 1484.70V1950.60M1397.59 1484.70V1950.60M1402.93 1484.70V1950.60M1408.27 1484.70V1950.60M1413.61 1484.70V1950.60M1418.94 1484.70V1950.60M1424.28 1484.70V1950.60M1429.62 1484.70V1950.60M1434.96 1484.70V1950.60M1440.29 1484.70V1950.60M1445.63 1484.70V1950.60M1450.97 1484.70V1950.60M1456.31 1484.70V1950.60M1461.64 1484.70V1950.60M1466.98 1484.70V1950.60M1472.32 1484.70V1950.60M1477.66 1484.70V1950.60M1482.99 1484.70V1950.60M1488.33 1484.70V1950.60M1493.67 1484.70V1950.60M1499.01 1484.70V1950.60M1504.34 1484.70V1950.60M1509.68 1484.70V1950.60M1515.02 1484.70V1950.60M1520.36 1484.70V1950.60M1525.70 1484.70V1950.60M1531.03 1484.70V1950.60M1536.37 1484.70V1950.60M1541.71 1484.70V1950.60M1547.05 1484.70V1950.60M1552.38 1484.70V1950.60M1557.72 1484.70V1950.60M1563.06 1484.70V1950.60M1568.40 1484.70V1950.60M1573.73 1484.70V1950.60M1579.07 1484.70V1950.60M1584.41 1484.70V1950.60M1589.75 1484.70V1950.60M1595.08 1484.70V1950.60M1600.42 1484.70V1950.60M1605.76 1484.70V1950.60M1611.10 1484.70V1950.60M1616.43 1484.70V1950.60M1621.77 1484.70V1950.60M1627.11 1484.70V1950.60M1632.45 1484.70V1950.60M1637.79 1484.70V1950.60M1643.12 1484.70V1950.60M1648.46 1484.70V1950.60M1653.80 1484.70V1950.60M1659.14 1484.70V1950.60M1664.47 1484.70V1950.60M1669.81 1484.70V1950.60M1675.15 1484.70V1950.60M1680.49 1484.70V1950.60M1685.82 1484.70V1950.60M1691.16 1484.70V1950.60M1696.50 1484.70V1950.60M1701.84 1484.70V1950.60M1707.17 1484.70V1950.60M1712.51 1484.70V1950.60M1717.85 1484.70V1950.60M1723.19 1484.70V1950.60M1728.52 1484.70V1950.60M1733.86 1484.70V1950.60M1739.20 1484.70V1950.60M79.20 1484.70H1739.20M79.20 1502.62H1739.20M79.20 1520.54H1739.20M79.20 1538.46H1739.20M79.20 1556.38H1739.20M79.20 1574.30H1739.20M79.20 1592.22H1739.20M79.20 1610.13H1739.20M79.20 1628.05H1739.20M79.20 1645.97H1739.20M79.20 1663.89H1739.20M79.20 1681.81H1739.20M79.20 1699.73H1739.20M79.20 1717.65H1739.20M79.20 1735.57H1739.20M79.20 1753.49H1739.20M79.20 1771.41H1739.20M79.20 1789.33H1739.20M79.20 1807.25H1739.20M79.20 1825.17H1739.20M79.20 1843.08H1739.20M79.20 1861.00H1739.20M79.20 1878.92H1739.20M79.20 1896.84H1739.20M79.20 1914.76H1739.20M79.20 1932.68H1739.20M79.20 1950.60H1739.20" stroke="#0e1420" stroke-width="1.5" fill="none"/>
</g>
<text x="1747.2" y="1500.8" font-size="16.60" text-anchor="start" font-weight="normal" font-family="'Liberation Sans', Arial, Helvetica, sans-serif" >Lung</text>
<text x="1747.2" y="1518.6" font-size="16.60" text-anchor="start" font-weight="normal" font-family="'Liberation Sans', Arial, Helvetica, sans-serif" >Esophagus — Muscularis</text>
<text x="1747.2" y="1536.5" font-size="16.60" text-anchor="start" font-weight="normal" font-family="'Liberation Sans', Arial, Helvetica, sans-serif" >Adipose — Visceral (Omentum)</text>
<text x="1747.2" y="1554.3" font-size="16.60" text-anchor="start" font-weight="normal" font-family="'Liberation Sans', Arial, Helvetica, sans-serif" >Colon — Transverse</text>
<text x="1747.2" y="1572.2" font-size="16.60" text-anchor="start" font-weight="normal" font-family="'Liberation Sans', Arial, Helvetica, sans-serif" >Adrenal gland</text>
<text x="1747.2" y="1590.0" font-size="16.60" text-anchor="start" font-weight="normal" font-family="'Liberation Sans', Arial, Helvetica, sans-serif" >Esophagus — Mucosa</text>
<text x="1747.2" y="1607.9" font-size="16.60" text-anchor="start" font-weight="normal" font-family="'Liberation Sans', Arial, Helvetica, sans-serif" >Spleen</text>
<text x="1747.2" y="1625.8" font-size="16.60" text-anchor="start" font-weight="normal" font-family="'Liberation Sans', Arial, Helvetica, sans-serif" >Heart — Atrial appendage</text>
<text x="1747.2" y="1643.6" font-size="16.60" text-anchor="start" font-weight="normal" font-family="'Liberation Sans', Arial, Helvetica, sans-serif" >Uterus</text>
<text x="1747.2" y="1661.5" font-size="16.60" text-anchor="start" font-weight="normal" font-family="'Liberation Sans', Arial, Helvetica, sans-serif" >Nerve — Tibial</text>
<text x="1747.2" y="1679.3" font-size="16.60" text-anchor="start" font-weight="normal" font-family="'Liberation Sans', Arial, Helvetica, sans-serif" >Colon — Sigmoid</text>
<text x="1747.2" y="1697.2" font-size="16.60" text-anchor="start" font-weight="normal" font-family="'Liberation Sans', Arial, Helvetica, sans-serif" >Skin — Not sun exposed (Suprapubic)</text>
<text x="1747.2" y="1715.0" font-size="16.60" text-anchor="start" font-weight="normal" font-family="'Liberation Sans', Arial, Helvetica, sans-serif" >Thyroid</text>
<text x="1747.2" y="1732.8" font-size="16.60" text-anchor="start" font-weight="normal" font-family="'Liberation Sans', Arial, Helvetica, sans-serif" >Ovary</text>
<text x="1747.2" y="1750.7" font-size="16.60" text-anchor="start" font-weight="normal" font-family="'Liberation Sans', Arial, Helvetica, sans-serif" >Esophagus — Gastroesophageal junction</text>
<text x="1747.2" y="1768.5" font-size="16.60" text-anchor="start" font-weight="normal" font-family="'Liberation Sans', Arial, Helvetica, sans-serif" >Skin — Sun exposed (Lower leg)</text>
<text x="1747.2" y="1786.4" font-size="16.60" text-anchor="start" font-weight="normal" font-family="'Liberation Sans', Arial, Helvetica, sans-serif" >Adipose — Subcutaneous</text>
<text x="1747.2" y="1804.2" font-size="16.60" text-anchor="start" font-weight="normal" font-family="'Liberation Sans', Arial, Helvetica, sans-serif" >Vagina</text>
<text x="1747.2" y="1822.1" font-size="16.60" text-anchor="start" font-weight="normal" font-family="'Liberation Sans', Arial, Helvetica, sans-serif" >Prostate</text>
<text x="1747.2" y="1840.0" font-size="16.60" text-anchor="start" font-weight="normal" font-family="'Liberation Sans', Arial, Helvetica, sans-serif" >Small intestine — Terminal ileum</text>
<text x="1747.2" y="1857.8" font-size="16.60" text-anchor="start" font-weight="normal" font-family="'Liberation Sans', Arial, Helvetica, sans-serif" >Artery — Coronary</text>
<text x="1747.2" y="1875.7" font-size="16.60" text-anchor="start" font-weight="normal" font-family="'Liberation Sans', Arial, Helvetica, sans-serif" >Artery — Tibial</text>
<text x="1747.2" y="1893.5" font-size="16.60" text-anchor="start" font-weight="normal" font-family="'Liberation Sans', Arial, Helvetica, sans-serif" >Artery — Aorta</text>
<text x="1747.2" y="1911.3" font-size="16.60" text-anchor="start" font-weight="normal" font-family="'Liberation Sans', Arial, Helvetica, sans-serif" >Breast — Mammary tissue</text>
<text x="1747.2" y="1929.2" font-size="16.60" text-anchor="start" font-weight="normal" font-family="'Liberation Sans', Arial, Helvetica, sans-serif" >Pituitary</text>
<text x="1747.2" y="1947.0" font-size="16.60" text-anchor="start" font-weight="normal" font-family="'Liberation Sans', Arial, Helvetica, sans-serif" >Stomach</text>
<path d="M1.3 1493.7H79.2M11.4 1511.6H79.2M17.5 1529.5H79.2M24.5 1547.4H79.2M26.6 1565.3H79.2M33.2 1583.3H79.2M33.2 1601.2H79.2M32.3 1619.1H79.2M35.5 1637.0H79.2M36.1 1654.9H79.2M39.5 1672.9H79.2M43.7 1690.8H79.2M45.0 1708.7H79.2M46.0 1726.6H79.2M47.3 1744.5H79.2M48.7 1762.4H79.2M51.4 1780.4H79.2M54.2 1798.3H79.2M56.2 1816.2H79.2M56.9 1834.1H79.2M59.7 1852.0H79.2M59.7 1870.0H79.2M58.3 1887.9H79.2M61.0 1905.8H79.2M63.4 1923.7H79.2M63.4 1941.6H79.2M63.4 1923.7V1941.6M61.0 1905.8V1932.7M61.0 1932.7H63.4M58.3 1887.9V1919.2M58.3 1919.2H61.0M59.7 1870.0V1903.6M59.7 1852.0V1886.8M56.9 1834.1V1869.4M56.9 1869.4H59.7M56.2 1816.2V1851.8M56.2 1851.8H56.9M54.2 1798.3V1834.0M54.2 1834.0H56.2M51.4 1780.4V1816.1M51.4 1816.1H54.2M48.7 1762.4V1798.3M48.7 1798.3H51.4M47.3 1744.5V1780.3M47.3 1780.3H48.7M46.0 1726.6V1762.4M46.0 1762.4H47.3M45.0 1708.7V1744.5M45.0 1744.5H46.0M43.7 1690.8V1726.6M43.7 1726.6H45.0M39.5 1672.9V1708.7M39.5 1708.7H43.7M36.1 1654.9V1690.8M36.1 1690.8H39.5M35.5 1637.0V1672.9M35.5 1672.9H36.1M32.3 1619.1V1654.9M32.3 1654.9H35.5M33.2 1601.2V1637.0M33.2 1583.3V1619.1M26.6 1565.3V1601.2M26.6 1601.2H33.2M24.5 1547.4V1583.3M24.5 1583.3H26.6M17.5 1529.5V1565.3M17.5 1565.3H24.5M11.4 1511.6V1547.4M11.4 1547.4H17.5M1.3 1493.7V1529.5M1.3 1529.5H11.4" stroke="#555" stroke-width="1.3" fill="none"/>
</svg>
</body></html>
